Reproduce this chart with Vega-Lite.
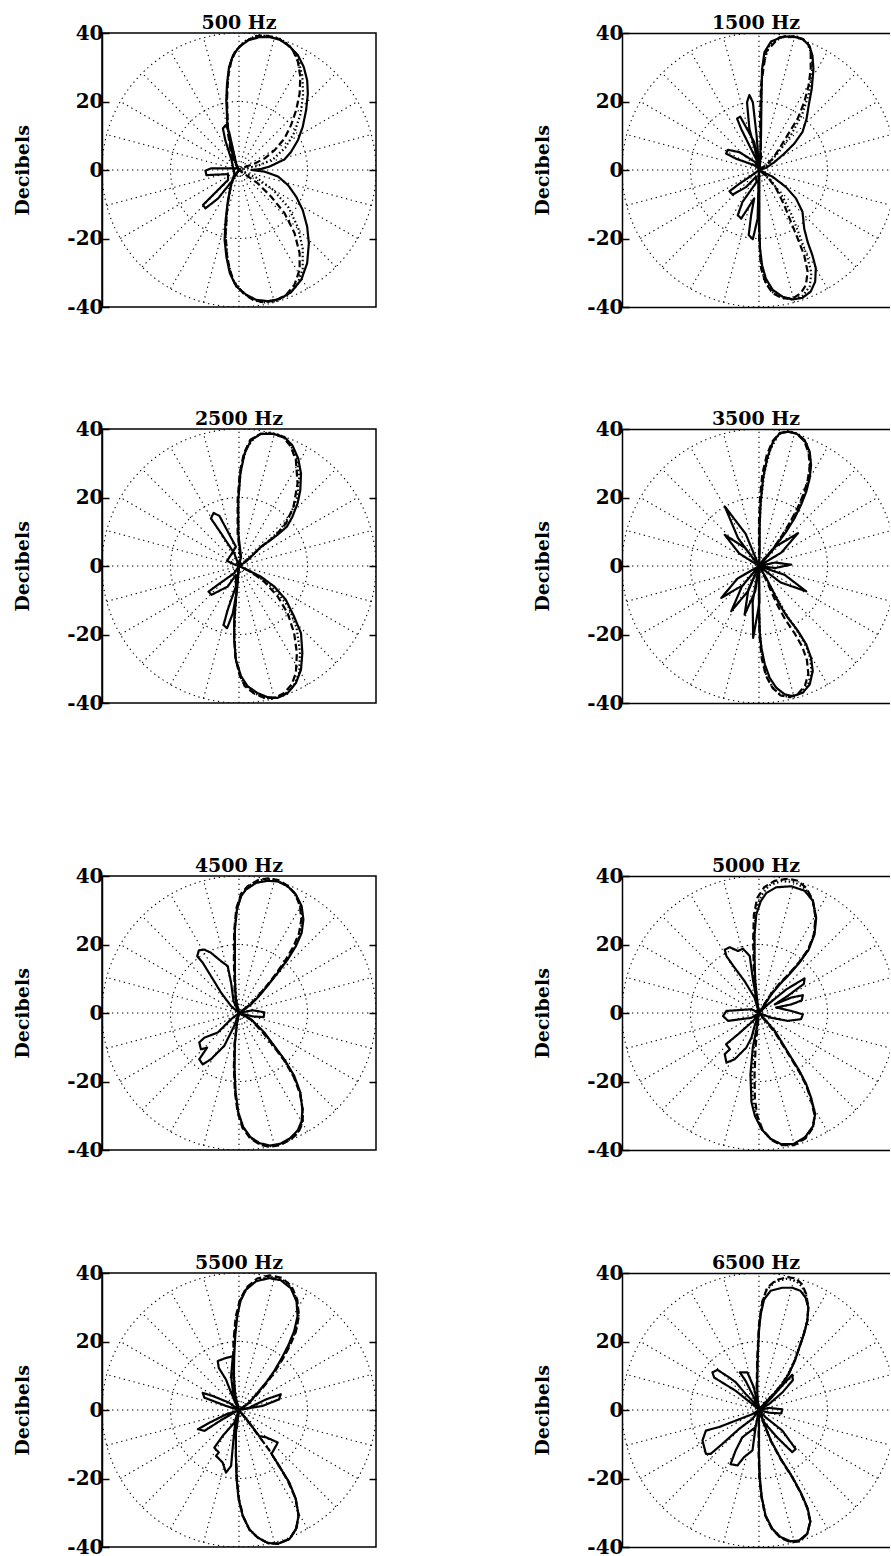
{
"$schema":"https://vega.github.io/schema/vega-lite/v6.json",
"background":"white",
"padding":{"left":13,"top":13,"right":0,"bottom":0},
"config":{
 "view":{"stroke":"black","strokeWidth":1.5},
 "title":{"font":"DejaVu Serif","fontWeight":"bold","fontSize":19,"offset":-10,"color":"black","anchor":"middle","frame":"group"},
 "axis":{"domainColor":"black","domainWidth":1.5,"tickColor":"black","tickWidth":1.5,"labelFont":"DejaVu Serif","labelFontWeight":"bold","labelFontSize":20,"labelColor":"black","titleFont":"DejaVu Serif","titleFontWeight":"bold","titleFontSize":19,"titleColor":"black","grid":false,"labelFlush":false,"labelOverlap":false,"labelBound":false}
},
"datasets":{
"rings":[{"x":0,"y":0,"r":20},{"x":0,"y":0,"r":40}],
"spokes":[
{"x":-40,"y":0,"x2":40,"y2":0},
{"x":-38.64,"y":-10.35,"x2":38.64,"y2":10.35},
{"x":-34.64,"y":-20,"x2":34.64,"y2":20},
{"x":-28.28,"y":-28.28,"x2":28.28,"y2":28.28},
{"x":-20,"y":-34.64,"x2":20,"y2":34.64},
{"x":-10.35,"y":-38.64,"x2":10.35,"y2":38.64},
{"x":0,"y":-40,"x2":0,"y2":40},
{"x":10.35,"y":-38.64,"x2":-10.35,"y2":38.64},
{"x":20,"y":-34.64,"x2":-20,"y2":34.64},
{"x":28.28,"y":-28.28,"x2":-28.28,"y2":28.28},
{"x":34.64,"y":-20,"x2":-34.64,"y2":20},
{"x":38.64,"y":-10.35,"x2":-38.64,"y2":10.35}],
"curves":[
{"p":"500","s":"solid","x":0,"y":0},{"p":"500","s":"solid","x":-1.75,"y":3.9},{"p":"500","s":"solid","x":-2.7,"y":8.7},{"p":"500","s":"solid","x":-3.4,"y":13.6},{"p":"500","s":"solid","x":-3.7,"y":20.4},{"p":"500","s":"solid","x":-3.5,"y":25.2},{"p":"500","s":"solid","x":-2.9,"y":30.1},{"p":"500","s":"solid","x":-1.75,"y":33.5},{"p":"500","s":"solid","x":0.2,"y":36.1},{"p":"500","s":"solid","x":2.8,"y":37.9},{"p":"500","s":"solid","x":6,"y":38.8},{"p":"500","s":"solid","x":8.9,"y":38.8},{"p":"500","s":"solid","x":11.8,"y":38.1},{"p":"500","s":"solid","x":14.8,"y":36.1},{"p":"500","s":"solid","x":17.2,"y":33.5},{"p":"500","s":"solid","x":18.9,"y":30.1},{"p":"500","s":"solid","x":19.9,"y":26.2},{"p":"500","s":"solid","x":20.1,"y":22.3},{"p":"500","s":"solid","x":19.6,"y":17.5},{"p":"500","s":"solid","x":18.6,"y":12.6},{"p":"500","s":"solid","x":17.2,"y":8.7},{"p":"500","s":"solid","x":15.2,"y":5.3},{"p":"500","s":"solid","x":13.3,"y":3.1},{"p":"500","s":"solid","x":11.4,"y":2.2},{"p":"500","s":"solid","x":8.9,"y":1},{"p":"500","s":"solid","x":6.5,"y":0.3},{"p":"500","s":"solid","x":3.6,"y":0},{"p":"500","s":"solid","x":7.5,"y":-0.5},{"p":"500","s":"solid","x":11.4,"y":-1.9},{"p":"500","s":"solid","x":14.3,"y":-4.4},{"p":"500","s":"solid","x":16.7,"y":-7.8},{"p":"500","s":"solid","x":18.6,"y":-11.7},{"p":"500","s":"solid","x":19.9,"y":-16.5},{"p":"500","s":"solid","x":20.4,"y":-21.4},{"p":"500","s":"solid","x":19.9,"y":-27.2},{"p":"500","s":"solid","x":18.2,"y":-32},{"p":"500","s":"solid","x":15.2,"y":-35.7},{"p":"500","s":"solid","x":11.8,"y":-37.7},{"p":"500","s":"solid","x":8.4,"y":-38.3},{"p":"500","s":"solid","x":5,"y":-37.9},{"p":"500","s":"solid","x":2.1,"y":-36.4},{"p":"500","s":"solid","x":-0.8,"y":-34},{"p":"500","s":"solid","x":-2.7,"y":-30.1},{"p":"500","s":"solid","x":-3.7,"y":-25.2},{"p":"500","s":"solid","x":-4.2,"y":-20.4},{"p":"500","s":"solid","x":-3.9,"y":-14.6},{"p":"500","s":"solid","x":-3.2,"y":-8.7},{"p":"500","s":"solid","x":-2.2,"y":-3.9},{"p":"500","s":"solid","x":-1.3,"y":-1},{"p":"500","s":"solid","x":-2.2,"y":2.9},{"p":"500","s":"solid","x":-4,"y":8.7},{"p":"500","s":"solid","x":-4.7,"y":12.1},{"p":"500","s":"solid","x":-3.9,"y":13.1},{"p":"500","s":"solid","x":-2.9,"y":11.2},{"p":"500","s":"solid","x":-1.7,"y":5.8},{"p":"500","s":"solid","x":-0.5,"y":0.5},{"p":"500","s":"solid","x":-3.2,"y":0.5},{"p":"500","s":"solid","x":-8.1,"y":0.5},{"p":"500","s":"solid","x":-9.8,"y":-0.2},{"p":"500","s":"solid","x":-9.5,"y":-1.5},{"p":"500","s":"solid","x":-3.2,"y":-1.2},{"p":"500","s":"solid","x":-3.2,"y":-2.9},{"p":"500","s":"solid","x":-8.1,"y":-7.8},{"p":"500","s":"solid","x":-10.5,"y":-10.2},{"p":"500","s":"solid","x":-9.8,"y":-11.2},{"p":"500","s":"solid","x":-6.1,"y":-8.3},{"p":"500","s":"solid","x":-2.2,"y":-3.4},{"p":"500","s":"solid","x":0,"y":0},
{"p":"500","s":"dashed","x":0,"y":0},{"p":"500","s":"dashed","x":-2.2,"y":3.9},{"p":"500","s":"dashed","x":-3.2,"y":10.7},{"p":"500","s":"dashed","x":-3.5,"y":20.4},{"p":"500","s":"dashed","x":-3.2,"y":27.2},{"p":"500","s":"dashed","x":-2.2,"y":32},{"p":"500","s":"dashed","x":-0.8,"y":35},{"p":"500","s":"dashed","x":1.7,"y":37.4},{"p":"500","s":"dashed","x":4.6,"y":39},{"p":"500","s":"dashed","x":7.5,"y":39.3},{"p":"500","s":"dashed","x":10.4,"y":38.8},{"p":"500","s":"dashed","x":13.3,"y":37.4},{"p":"500","s":"dashed","x":15.7,"y":35},{"p":"500","s":"dashed","x":17.2,"y":31.6},{"p":"500","s":"dashed","x":17.9,"y":27.2},{"p":"500","s":"dashed","x":17.7,"y":22.3},{"p":"500","s":"dashed","x":16.7,"y":17.5},{"p":"500","s":"dashed","x":15.2,"y":13.1},{"p":"500","s":"dashed","x":13.3,"y":9.2},{"p":"500","s":"dashed","x":10.4,"y":5.8},{"p":"500","s":"dashed","x":7.5,"y":3.4},{"p":"500","s":"dashed","x":4.6,"y":1.9},{"p":"500","s":"dashed","x":2.1,"y":1},{"p":"500","s":"dashed","x":0,"y":0},{"p":"500","s":"dashed","x":2.1,"y":-1.5},{"p":"500","s":"dashed","x":5.5,"y":-3.9},{"p":"500","s":"dashed","x":9.4,"y":-7.8},{"p":"500","s":"dashed","x":13.3,"y":-12.6},{"p":"500","s":"dashed","x":16.2,"y":-18.4},{"p":"500","s":"dashed","x":17.7,"y":-24.3},{"p":"500","s":"dashed","x":17.7,"y":-29.1},{"p":"500","s":"dashed","x":16.2,"y":-33.5},{"p":"500","s":"dashed","x":13.8,"y":-36.4},{"p":"500","s":"dashed","x":10.4,"y":-38.2},{"p":"500","s":"dashed","x":7,"y":-38.6},{"p":"500","s":"dashed","x":4.1,"y":-37.9},{"p":"500","s":"dashed","x":1.2,"y":-35.9},{"p":"500","s":"dashed","x":-1.3,"y":-33},{"p":"500","s":"dashed","x":-2.7,"y":-29.1},{"p":"500","s":"dashed","x":-3.6,"y":-24.3},{"p":"500","s":"dashed","x":-3.9,"y":-18.4},{"p":"500","s":"dashed","x":-3.4,"y":-10.7},{"p":"500","s":"dashed","x":-2.5,"y":-4.9},{"p":"500","s":"dashed","x":-1.5,"y":-1.9},{"p":"500","s":"dashed","x":0,"y":0},
{"p":"500","s":"dotted","x":0,"y":0},{"p":"500","s":"dotted","x":-2,"y":4},{"p":"500","s":"dotted","x":-3.3,"y":12},{"p":"500","s":"dotted","x":-3.6,"y":22},{"p":"500","s":"dotted","x":-2.8,"y":30.5},{"p":"500","s":"dotted","x":-1.2,"y":34.5},{"p":"500","s":"dotted","x":1.5,"y":37.5},{"p":"500","s":"dotted","x":5,"y":39.2},{"p":"500","s":"dotted","x":8.5,"y":39.2},{"p":"500","s":"dotted","x":12,"y":38.3},{"p":"500","s":"dotted","x":15,"y":36},{"p":"500","s":"dotted","x":17.2,"y":32.5},{"p":"500","s":"dotted","x":18.5,"y":27.5},{"p":"500","s":"dotted","x":18.7,"y":22},{"p":"500","s":"dotted","x":18,"y":16.5},{"p":"500","s":"dotted","x":16.2,"y":11},{"p":"500","s":"dotted","x":13.5,"y":6.5},{"p":"500","s":"dotted","x":10,"y":3.2},{"p":"500","s":"dotted","x":5.5,"y":1.2},{"p":"500","s":"dotted","x":0,"y":0},{"p":"500","s":"dotted","x":5,"y":-2.2},{"p":"500","s":"dotted","x":10,"y":-5.8},{"p":"500","s":"dotted","x":14.5,"y":-11},{"p":"500","s":"dotted","x":17.3,"y":-17},{"p":"500","s":"dotted","x":18.6,"y":-23},{"p":"500","s":"dotted","x":18.6,"y":-29},{"p":"500","s":"dotted","x":17,"y":-33.5},{"p":"500","s":"dotted","x":14.2,"y":-36.6},{"p":"500","s":"dotted","x":10.5,"y":-38.3},{"p":"500","s":"dotted","x":7,"y":-38.7},{"p":"500","s":"dotted","x":3.8,"y":-37.8},{"p":"500","s":"dotted","x":0.8,"y":-35.5},{"p":"500","s":"dotted","x":-1.8,"y":-32},{"p":"500","s":"dotted","x":-3.2,"y":-27},{"p":"500","s":"dotted","x":-3.9,"y":-20},{"p":"500","s":"dotted","x":-3.5,"y":-11},{"p":"500","s":"dotted","x":-2.2,"y":-4},{"p":"500","s":"dotted","x":0,"y":0},

{"p":"1500","s":"solid","x":0,"y":0},{"p":"1500","s":"solid","x":0.3,"y":2.3},{"p":"1500","s":"solid","x":0.6,"y":10.1},{"p":"1500","s":"solid","x":0.7,"y":19.8},{"p":"1500","s":"solid","x":0.9,"y":29.5},{"p":"1500","s":"solid","x":1.6,"y":34.4},{"p":"1500","s":"solid","x":3.5,"y":37.5},{"p":"1500","s":"solid","x":6.9,"y":38.9},{"p":"1500","s":"solid","x":9.8,"y":39},{"p":"1500","s":"solid","x":12.7,"y":38.3},{"p":"1500","s":"solid","x":14.7,"y":36.3},{"p":"1500","s":"solid","x":15.6,"y":33.4},{"p":"1500","s":"solid","x":15.9,"y":29.5},{"p":"1500","s":"solid","x":15.4,"y":23.7},{"p":"1500","s":"solid","x":14.5,"y":18.8},{"p":"1500","s":"solid","x":13.9,"y":15},{"p":"1500","s":"solid","x":12.7,"y":11.1},{"p":"1500","s":"solid","x":10.3,"y":7.7},{"p":"1500","s":"solid","x":7.4,"y":4.8},{"p":"1500","s":"solid","x":4.5,"y":2.3},{"p":"1500","s":"solid","x":2,"y":0.6},{"p":"1500","s":"solid","x":0,"y":0},{"p":"1500","s":"solid","x":4,"y":-2},{"p":"1500","s":"solid","x":7.9,"y":-5},{"p":"1500","s":"solid","x":10.8,"y":-8.3},{"p":"1500","s":"solid","x":12.7,"y":-12.2},{"p":"1500","s":"solid","x":13.2,"y":-17.1},{"p":"1500","s":"solid","x":14.2,"y":-21},{"p":"1500","s":"solid","x":15.6,"y":-24.9},{"p":"1500","s":"solid","x":16.6,"y":-28.7},{"p":"1500","s":"solid","x":16.4,"y":-32.6},{"p":"1500","s":"solid","x":15.1,"y":-35.5},{"p":"1500","s":"solid","x":12.7,"y":-37.3},{"p":"1500","s":"solid","x":9.8,"y":-37.8},{"p":"1500","s":"solid","x":6.9,"y":-37},{"p":"1500","s":"solid","x":4,"y":-35},{"p":"1500","s":"solid","x":2,"y":-31.7},{"p":"1500","s":"solid","x":0.9,"y":-27.8},{"p":"1500","s":"solid","x":0.3,"y":-22.9},{"p":"1500","s":"solid","x":0.1,"y":-17.1},{"p":"1500","s":"solid","x":0.1,"y":-9.3},{"p":"1500","s":"solid","x":0.1,"y":-3.5},{"p":"1500","s":"solid","x":0,"y":0},{"p":"1500","s":"solid","x":-0.7,"y":4.3},{"p":"1500","s":"solid","x":-2.8,"y":12},{"p":"1500","s":"solid","x":-3.5,"y":19.8},{"p":"1500","s":"solid","x":-2.8,"y":21.9},{"p":"1500","s":"solid","x":-1.8,"y":19.8},{"p":"1500","s":"solid","x":-0.7,"y":10.1},{"p":"1500","s":"solid","x":0,"y":1},{"p":"1500","s":"solid","x":-0.9,"y":3.3},{"p":"1500","s":"solid","x":-5.2,"y":12},{"p":"1500","s":"solid","x":-6.4,"y":15},{"p":"1500","s":"solid","x":-5.5,"y":15.6},{"p":"1500","s":"solid","x":-1.4,"y":8.2},{"p":"1500","s":"solid","x":0,"y":0.5},{"p":"1500","s":"solid","x":-1.4,"y":1.4},{"p":"1500","s":"solid","x":-6.7,"y":3.3},{"p":"1500","s":"solid","x":-9.6,"y":4.8},{"p":"1500","s":"solid","x":-9.1,"y":5.9},{"p":"1500","s":"solid","x":-5.7,"y":5.2},{"p":"1500","s":"solid","x":-1.1,"y":2.3},{"p":"1500","s":"solid","x":0,"y":0},{"p":"1500","s":"solid","x":-1.4,"y":-1.1},{"p":"1500","s":"solid","x":-5.7,"y":-4},{"p":"1500","s":"solid","x":-8.6,"y":-6.2},{"p":"1500","s":"solid","x":-7.7,"y":-7.2},{"p":"1500","s":"solid","x":-3.8,"y":-5},{"p":"1500","s":"solid","x":-0.9,"y":-2},{"p":"1500","s":"solid","x":-0.7,"y":-3.5},{"p":"1500","s":"solid","x":-4.8,"y":-9.3},{"p":"1500","s":"solid","x":-6.2,"y":-13.2},{"p":"1500","s":"solid","x":-5.2,"y":-14.2},{"p":"1500","s":"solid","x":-1.4,"y":-8.3},{"p":"1500","s":"solid","x":-2.3,"y":-13.2},{"p":"1500","s":"solid","x":-3,"y":-19},{"p":"1500","s":"solid","x":-1.8,"y":-20.2},{"p":"1500","s":"solid","x":-0.4,"y":-14.2},{"p":"1500","s":"solid","x":-0.1,"y":-3.5},{"p":"1500","s":"solid","x":0,"y":0},
{"p":"1500","s":"dashed","x":0,"y":0},{"p":"1500","s":"dashed","x":0.6,"y":3.3},{"p":"1500","s":"dashed","x":0.3,"y":15},{"p":"1500","s":"dashed","x":0.6,"y":24.7},{"p":"1500","s":"dashed","x":2,"y":34.4},{"p":"1500","s":"dashed","x":5.9,"y":38.7},{"p":"1500","s":"dashed","x":10.8,"y":38.9},{"p":"1500","s":"dashed","x":13.7,"y":37.8},{"p":"1500","s":"dashed","x":15.1,"y":35.3},{"p":"1500","s":"dashed","x":15.1,"y":29.5},{"p":"1500","s":"dashed","x":14.5,"y":24.7},{"p":"1500","s":"dashed","x":13.2,"y":19.8},{"p":"1500","s":"dashed","x":11.3,"y":15},{"p":"1500","s":"dashed","x":8.3,"y":10.1},{"p":"1500","s":"dashed","x":5.9,"y":6.2},{"p":"1500","s":"dashed","x":4,"y":3.3},{"p":"1500","s":"dashed","x":2,"y":1.4},{"p":"1500","s":"dashed","x":0,"y":0},{"p":"1500","s":"dashed","x":2.5,"y":-2},{"p":"1500","s":"dashed","x":5,"y":-5.4},{"p":"1500","s":"dashed","x":7.4,"y":-10.3},{"p":"1500","s":"dashed","x":9.3,"y":-15.1},{"p":"1500","s":"dashed","x":11.3,"y":-20},{"p":"1500","s":"dashed","x":13.2,"y":-24.9},{"p":"1500","s":"dashed","x":14.2,"y":-29.7},{"p":"1500","s":"dashed","x":13.7,"y":-33.6},{"p":"1500","s":"dashed","x":12.2,"y":-36},{"p":"1500","s":"dashed","x":9.8,"y":-37.5},{"p":"1500","s":"dashed","x":6.9,"y":-37.5},{"p":"1500","s":"dashed","x":4,"y":-36},{"p":"1500","s":"dashed","x":2,"y":-33.1},{"p":"1500","s":"dashed","x":0.6,"y":-28.7},{"p":"1500","s":"dashed","x":0.1,"y":-21},{"p":"1500","s":"dashed","x":-0.1,"y":-11.3},{"p":"1500","s":"dashed","x":-0.1,"y":-3.5},{"p":"1500","s":"dashed","x":0,"y":0},
{"p":"1500","s":"dotted","x":0,"y":0},{"p":"1500","s":"dotted","x":0.5,"y":5},{"p":"1500","s":"dotted","x":0.5,"y":18},{"p":"1500","s":"dotted","x":1,"y":30},{"p":"1500","s":"dotted","x":3,"y":36.5},{"p":"1500","s":"dotted","x":7,"y":39},{"p":"1500","s":"dotted","x":11,"y":39},{"p":"1500","s":"dotted","x":14,"y":37.3},{"p":"1500","s":"dotted","x":15.5,"y":33.5},{"p":"1500","s":"dotted","x":15.5,"y":28},{"p":"1500","s":"dotted","x":14.5,"y":22},{"p":"1500","s":"dotted","x":12.5,"y":16},{"p":"1500","s":"dotted","x":9.5,"y":10.5},{"p":"1500","s":"dotted","x":6,"y":5.5},{"p":"1500","s":"dotted","x":2.5,"y":1.5},{"p":"1500","s":"dotted","x":0,"y":0},{"p":"1500","s":"dotted","x":3.5,"y":-3},{"p":"1500","s":"dotted","x":7,"y":-8},{"p":"1500","s":"dotted","x":9.5,"y":-13},{"p":"1500","s":"dotted","x":11.8,"y":-19},{"p":"1500","s":"dotted","x":14,"y":-25},{"p":"1500","s":"dotted","x":15.3,"y":-30},{"p":"1500","s":"dotted","x":14.8,"y":-34},{"p":"1500","s":"dotted","x":12.8,"y":-36.7},{"p":"1500","s":"dotted","x":9.8,"y":-37.8},{"p":"1500","s":"dotted","x":6.8,"y":-37.3},{"p":"1500","s":"dotted","x":3.8,"y":-35.5},{"p":"1500","s":"dotted","x":1.5,"y":-32},{"p":"1500","s":"dotted","x":0.4,"y":-26},{"p":"1500","s":"dotted","x":0,"y":-16},{"p":"1500","s":"dotted","x":0,"y":-5},{"p":"1500","s":"dotted","x":0,"y":0},

{"p":"2500","s":"solid","x":0,"y":0},{"p":"2500","s":"solid","x":0.6,"y":2.7},{"p":"2500","s":"solid","x":-0.2,"y":9.5},{"p":"2500","s":"solid","x":-0.2,"y":19.2},{"p":"2500","s":"solid","x":0.4,"y":27},{"p":"2500","s":"solid","x":1.6,"y":32.8},{"p":"2500","s":"solid","x":3.5,"y":36.7},{"p":"2500","s":"solid","x":6.4,"y":38.6},{"p":"2500","s":"solid","x":9.8,"y":38.6},{"p":"2500","s":"solid","x":13.2,"y":37.7},{"p":"2500","s":"solid","x":15.6,"y":35.2},{"p":"2500","s":"solid","x":17.3,"y":31.4},{"p":"2500","s":"solid","x":18.1,"y":27},{"p":"2500","s":"solid","x":17.9,"y":22.1},{"p":"2500","s":"solid","x":17.1,"y":18.3},{"p":"2500","s":"solid","x":15.6,"y":14.4},{"p":"2500","s":"solid","x":14,"y":11.5},{"p":"2500","s":"solid","x":11.7,"y":9.5},{"p":"2500","s":"solid","x":9.3,"y":7.6},{"p":"2500","s":"solid","x":6.4,"y":5.6},{"p":"2500","s":"solid","x":3.5,"y":2.7},{"p":"2500","s":"solid","x":1.6,"y":1},{"p":"2500","s":"solid","x":0,"y":0},{"p":"2500","s":"solid","x":2.5,"y":-1.2},{"p":"2500","s":"solid","x":6.4,"y":-3.1},{"p":"2500","s":"solid","x":10.3,"y":-6},{"p":"2500","s":"solid","x":13.7,"y":-9.9},{"p":"2500","s":"solid","x":16.1,"y":-14.8},{"p":"2500","s":"solid","x":18.1,"y":-19.6},{"p":"2500","s":"solid","x":18.5,"y":-25.4},{"p":"2500","s":"solid","x":18.1,"y":-30.3},{"p":"2500","s":"solid","x":16.6,"y":-34.2},{"p":"2500","s":"solid","x":14.2,"y":-37.1},{"p":"2500","s":"solid","x":11.3,"y":-38.5},{"p":"2500","s":"solid","x":8.3,"y":-38.3},{"p":"2500","s":"solid","x":5.4,"y":-37.1},{"p":"2500","s":"solid","x":2.5,"y":-35.1},{"p":"2500","s":"solid","x":0.6,"y":-32.2},{"p":"2500","s":"solid","x":-0.9,"y":-27.4},{"p":"2500","s":"solid","x":-1.4,"y":-21.6},{"p":"2500","s":"solid","x":-1.4,"y":-15.7},{"p":"2500","s":"solid","x":-0.9,"y":-9.9},{"p":"2500","s":"solid","x":-0.4,"y":-4.1},{"p":"2500","s":"solid","x":0,"y":0},{"p":"2500","s":"solid","x":-1.4,"y":3.7},{"p":"2500","s":"solid","x":-5.2,"y":9.5},{"p":"2500","s":"solid","x":-8.2,"y":13.9},{"p":"2500","s":"solid","x":-7.4,"y":15.5},{"p":"2500","s":"solid","x":-5.7,"y":14.6},{"p":"2500","s":"solid","x":-0.9,"y":5.6},{"p":"2500","s":"solid","x":-2.5,"y":3},{"p":"2500","s":"solid","x":-3.5,"y":1.5},{"p":"2500","s":"solid","x":-1,"y":0.3},{"p":"2500","s":"solid","x":0,"y":0},{"p":"2500","s":"solid","x":-1.4,"y":-2.1},{"p":"2500","s":"solid","x":-6.2,"y":-5.5},{"p":"2500","s":"solid","x":-8.9,"y":-7.5},{"p":"2500","s":"solid","x":-8,"y":-8.4},{"p":"2500","s":"solid","x":-3.3,"y":-6},{"p":"2500","s":"solid","x":-0.9,"y":-2.6},{"p":"2500","s":"solid","x":-0.9,"y":-6},{"p":"2500","s":"solid","x":-3.3,"y":-12.8},{"p":"2500","s":"solid","x":-4.5,"y":-17.2},{"p":"2500","s":"solid","x":-3.5,"y":-18.2},{"p":"2500","s":"solid","x":-1.8,"y":-13.8},{"p":"2500","s":"solid","x":-0.6,"y":-7},{"p":"2500","s":"solid","x":0,"y":0},
{"p":"2500","s":"dashed","x":0,"y":0},{"p":"2500","s":"dashed","x":0.4,"y":2.7},{"p":"2500","s":"dashed","x":-0.4,"y":9.5},{"p":"2500","s":"dashed","x":-0.4,"y":19.2},{"p":"2500","s":"dashed","x":0.2,"y":27},{"p":"2500","s":"dashed","x":1.4,"y":32.8},{"p":"2500","s":"dashed","x":3.3,"y":36.9},{"p":"2500","s":"dashed","x":6.4,"y":38.6},{"p":"2500","s":"dashed","x":9.8,"y":38.6},{"p":"2500","s":"dashed","x":13,"y":37.5},{"p":"2500","s":"dashed","x":15.1,"y":34.9},{"p":"2500","s":"dashed","x":16.6,"y":30.9},{"p":"2500","s":"dashed","x":17.1,"y":24.1},{"p":"2500","s":"dashed","x":15.9,"y":17.3},{"p":"2500","s":"dashed","x":13.7,"y":12.4},{"p":"2500","s":"dashed","x":10.3,"y":8.5},{"p":"2500","s":"dashed","x":6.4,"y":5.6},{"p":"2500","s":"dashed","x":3.5,"y":2.7},{"p":"2500","s":"dashed","x":1.4,"y":0.8},{"p":"2500","s":"dashed","x":0,"y":0},{"p":"2500","s":"dashed","x":3.5,"y":-1.7},{"p":"2500","s":"dashed","x":7.4,"y":-4.6},{"p":"2500","s":"dashed","x":11.3,"y":-8.9},{"p":"2500","s":"dashed","x":14.2,"y":-13.8},{"p":"2500","s":"dashed","x":16.1,"y":-19.6},{"p":"2500","s":"dashed","x":16.9,"y":-25.4},{"p":"2500","s":"dashed","x":16.6,"y":-31.3},{"p":"2500","s":"dashed","x":15.3,"y":-34.7},{"p":"2500","s":"dashed","x":13.2,"y":-37.1},{"p":"2500","s":"dashed","x":10.3,"y":-38.5},{"p":"2500","s":"dashed","x":7.4,"y":-38.5},{"p":"2500","s":"dashed","x":4.5,"y":-37.3},{"p":"2500","s":"dashed","x":1.7,"y":-35.1},{"p":"2500","s":"dashed","x":0.1,"y":-31.7},{"p":"2500","s":"dashed","x":-1.1,"y":-26.4},{"p":"2500","s":"dashed","x":-1.4,"y":-19.6},{"p":"2500","s":"dashed","x":-1.1,"y":-11.8},{"p":"2500","s":"dashed","x":-0.4,"y":-4.1},{"p":"2500","s":"dashed","x":0,"y":0},
{"p":"2500","s":"dotted","x":0,"y":0},{"p":"2500","s":"dotted","x":0,"y":6},{"p":"2500","s":"dotted","x":-0.3,"y":18},{"p":"2500","s":"dotted","x":0.5,"y":28},{"p":"2500","s":"dotted","x":2.2,"y":34.5},{"p":"2500","s":"dotted","x":5,"y":38},{"p":"2500","s":"dotted","x":8.5,"y":39},{"p":"2500","s":"dotted","x":12,"y":38.3},{"p":"2500","s":"dotted","x":14.8,"y":36},{"p":"2500","s":"dotted","x":16.8,"y":31.5},{"p":"2500","s":"dotted","x":17.6,"y":26},{"p":"2500","s":"dotted","x":17,"y":20},{"p":"2500","s":"dotted","x":15,"y":15},{"p":"2500","s":"dotted","x":12,"y":10.5},{"p":"2500","s":"dotted","x":8,"y":6.8},{"p":"2500","s":"dotted","x":4,"y":3.3},{"p":"2500","s":"dotted","x":0,"y":0},{"p":"2500","s":"dotted","x":3,"y":-1.5},{"p":"2500","s":"dotted","x":7,"y":-4},{"p":"2500","s":"dotted","x":11,"y":-7.5},{"p":"2500","s":"dotted","x":14.5,"y":-12},{"p":"2500","s":"dotted","x":16.8,"y":-18},{"p":"2500","s":"dotted","x":17.8,"y":-25},{"p":"2500","s":"dotted","x":17.6,"y":-31},{"p":"2500","s":"dotted","x":16,"y":-35},{"p":"2500","s":"dotted","x":13,"y":-37.8},{"p":"2500","s":"dotted","x":9.5,"y":-38.8},{"p":"2500","s":"dotted","x":6.5,"y":-38.2},{"p":"2500","s":"dotted","x":3.5,"y":-36.5},{"p":"2500","s":"dotted","x":1,"y":-33.5},{"p":"2500","s":"dotted","x":-0.8,"y":-28},{"p":"2500","s":"dotted","x":-1.4,"y":-20},{"p":"2500","s":"dotted","x":-1,"y":-10},{"p":"2500","s":"dotted","x":0,"y":0},

{"p":"3500","s":"solid","x":0,"y":0},{"p":"3500","s":"solid","x":0.2,"y":4.3},{"p":"3500","s":"solid","x":0.2,"y":12},{"p":"3500","s":"solid","x":0.5,"y":18.8},{"p":"3500","s":"solid","x":1.2,"y":25.6},{"p":"3500","s":"solid","x":2.4,"y":31.5},{"p":"3500","s":"solid","x":4.1,"y":36.3},{"p":"3500","s":"solid","x":6,"y":38.7},{"p":"3500","s":"solid","x":8.4,"y":39.2},{"p":"3500","s":"solid","x":10.9,"y":38.7},{"p":"3500","s":"solid","x":13.3,"y":36.8},{"p":"3500","s":"solid","x":14.8,"y":33.4},{"p":"3500","s":"solid","x":15.2,"y":29.5},{"p":"3500","s":"solid","x":14.8,"y":25.6},{"p":"3500","s":"solid","x":13.8,"y":21.7},{"p":"3500","s":"solid","x":12.3,"y":17.9},{"p":"3500","s":"solid","x":10.4,"y":14},{"p":"3500","s":"solid","x":8,"y":10.1},{"p":"3500","s":"solid","x":5.5,"y":6.7},{"p":"3500","s":"solid","x":3.1,"y":3.8},{"p":"3500","s":"solid","x":1.2,"y":1.8},{"p":"3500","s":"solid","x":0,"y":0},{"p":"3500","s":"solid","x":4.9,"y":5.7},{"p":"3500","s":"solid","x":11.4,"y":9.6},{"p":"3500","s":"solid","x":6.5,"y":3.9},{"p":"3500","s":"solid","x":0,"y":0},{"p":"3500","s":"solid","x":4.7,"y":1},{"p":"3500","s":"solid","x":9.4,"y":0.4},{"p":"3500","s":"solid","x":4.7,"y":-0.6},{"p":"3500","s":"solid","x":0,"y":0},{"p":"3500","s":"solid","x":7.5,"y":-2.6},{"p":"3500","s":"solid","x":13.8,"y":-7.4},{"p":"3500","s":"solid","x":6.3,"y":-4.8},{"p":"3500","s":"solid","x":0,"y":0},{"p":"3500","s":"solid","x":2.1,"y":-3.5},{"p":"3500","s":"solid","x":4.1,"y":-7.4},{"p":"3500","s":"solid","x":6,"y":-11.3},{"p":"3500","s":"solid","x":8.4,"y":-15.1},{"p":"3500","s":"solid","x":11.4,"y":-19},{"p":"3500","s":"solid","x":13.8,"y":-22.9},{"p":"3500","s":"solid","x":15.2,"y":-26.8},{"p":"3500","s":"solid","x":15.7,"y":-30.7},{"p":"3500","s":"solid","x":14.8,"y":-34.6},{"p":"3500","s":"solid","x":12.8,"y":-37},{"p":"3500","s":"solid","x":9.9,"y":-38},{"p":"3500","s":"solid","x":7.5,"y":-37.5},{"p":"3500","s":"solid","x":5,"y":-35.5},{"p":"3500","s":"solid","x":3.1,"y":-32.6},{"p":"3500","s":"solid","x":1.7,"y":-28.7},{"p":"3500","s":"solid","x":0.7,"y":-23.9},{"p":"3500","s":"solid","x":0.2,"y":-19},{"p":"3500","s":"solid","x":0,"y":-12.2},{"p":"3500","s":"solid","x":0,"y":-5.4},{"p":"3500","s":"solid","x":0,"y":0},{"p":"3500","s":"solid","x":0.15,"y":-10.6},{"p":"3500","s":"solid","x":-1.7,"y":-21},{"p":"3500","s":"solid","x":-1.85,"y":-10.4},{"p":"3500","s":"solid","x":0,"y":0},{"p":"3500","s":"solid","x":-1.1,"y":-7.4},{"p":"3500","s":"solid","x":-4.2,"y":-14.2},{"p":"3500","s":"solid","x":-3.1,"y":-6.8},{"p":"3500","s":"solid","x":0,"y":0},{"p":"3500","s":"solid","x":-3.1,"y":-7.2},{"p":"3500","s":"solid","x":-8.1,"y":-13.2},{"p":"3500","s":"solid","x":-5,"y":-6},{"p":"3500","s":"solid","x":0,"y":0},{"p":"3500","s":"solid","x":-4.7,"y":-5.6},{"p":"3500","s":"solid","x":-11,"y":-9.3},{"p":"3500","s":"solid","x":-6.3,"y":-3.7},{"p":"3500","s":"solid","x":0,"y":0},{"p":"3500","s":"solid","x":-5.8,"y":3.7},{"p":"3500","s":"solid","x":-10,"y":9.1},{"p":"3500","s":"solid","x":-4.2,"y":5.4},{"p":"3500","s":"solid","x":0,"y":0},{"p":"3500","s":"solid","x":-6.1,"y":8.1},{"p":"3500","s":"solid","x":-10,"y":17.4},{"p":"3500","s":"solid","x":-3.9,"y":9.4},{"p":"3500","s":"solid","x":0,"y":0},
{"p":"3500","s":"dashed","x":0,"y":0},{"p":"3500","s":"dashed","x":0,"y":5},{"p":"3500","s":"dashed","x":0,"y":13},{"p":"3500","s":"dashed","x":0.3,"y":20},{"p":"3500","s":"dashed","x":1,"y":27},{"p":"3500","s":"dashed","x":2.3,"y":32.5},{"p":"3500","s":"dashed","x":4,"y":36.5},{"p":"3500","s":"dashed","x":6,"y":38.8},{"p":"3500","s":"dashed","x":8.5,"y":39.3},{"p":"3500","s":"dashed","x":11,"y":38.6},{"p":"3500","s":"dashed","x":13.2,"y":36.5},{"p":"3500","s":"dashed","x":14.5,"y":33},{"p":"3500","s":"dashed","x":14.8,"y":29},{"p":"3500","s":"dashed","x":14.2,"y":25},{"p":"3500","s":"dashed","x":13,"y":21},{"p":"3500","s":"dashed","x":11.3,"y":17},{"p":"3500","s":"dashed","x":9.2,"y":13},{"p":"3500","s":"dashed","x":6.8,"y":9},{"p":"3500","s":"dashed","x":4.3,"y":5.3},{"p":"3500","s":"dashed","x":2,"y":2.3},{"p":"3500","s":"dashed","x":0,"y":0},{"p":"3500","s":"dashed","x":1.8,"y":-3.5},{"p":"3500","s":"dashed","x":3.6,"y":-7.5},{"p":"3500","s":"dashed","x":5.4,"y":-11.5},{"p":"3500","s":"dashed","x":7.6,"y":-15.5},{"p":"3500","s":"dashed","x":10.3,"y":-19.5},{"p":"3500","s":"dashed","x":12.6,"y":-23.5},{"p":"3500","s":"dashed","x":14,"y":-27.5},{"p":"3500","s":"dashed","x":14.4,"y":-31.5},{"p":"3500","s":"dashed","x":13.4,"y":-35},{"p":"3500","s":"dashed","x":11.4,"y":-37.3},{"p":"3500","s":"dashed","x":8.8,"y":-38.3},{"p":"3500","s":"dashed","x":6.3,"y":-37.8},{"p":"3500","s":"dashed","x":3.9,"y":-35.5},{"p":"3500","s":"dashed","x":2,"y":-32},{"p":"3500","s":"dashed","x":0.8,"y":-27},{"p":"3500","s":"dashed","x":0.2,"y":-21},{"p":"3500","s":"dashed","x":0,"y":-13},{"p":"3500","s":"dashed","x":0,"y":-5},{"p":"3500","s":"dashed","x":0,"y":0},
{"p":"3500","s":"dotted","x":0,"y":0},{"p":"3500","s":"dotted","x":0.1,"y":8},{"p":"3500","s":"dotted","x":0.4,"y":17},{"p":"3500","s":"dotted","x":1.5,"y":27},{"p":"3500","s":"dotted","x":3.3,"y":34},{"p":"3500","s":"dotted","x":5.8,"y":38.5},{"p":"3500","s":"dotted","x":8.5,"y":39.5},{"p":"3500","s":"dotted","x":11.5,"y":38.5},{"p":"3500","s":"dotted","x":14,"y":35.5},{"p":"3500","s":"dotted","x":15,"y":31},{"p":"3500","s":"dotted","x":14.6,"y":26},{"p":"3500","s":"dotted","x":13,"y":20.5},{"p":"3500","s":"dotted","x":10.5,"y":15},{"p":"3500","s":"dotted","x":7.5,"y":10},{"p":"3500","s":"dotted","x":4.5,"y":5.5},{"p":"3500","s":"dotted","x":1.5,"y":2},{"p":"3500","s":"dotted","x":0,"y":0},{"p":"3500","s":"dotted","x":2.5,"y":-4.5},{"p":"3500","s":"dotted","x":5,"y":-9},{"p":"3500","s":"dotted","x":7.8,"y":-14},{"p":"3500","s":"dotted","x":11,"y":-18.5},{"p":"3500","s":"dotted","x":13.5,"y":-22.5},{"p":"3500","s":"dotted","x":15,"y":-27},{"p":"3500","s":"dotted","x":15.3,"y":-31},{"p":"3500","s":"dotted","x":14.3,"y":-34.8},{"p":"3500","s":"dotted","x":12,"y":-37.3},{"p":"3500","s":"dotted","x":9.2,"y":-38.3},{"p":"3500","s":"dotted","x":6.5,"y":-37.8},{"p":"3500","s":"dotted","x":4,"y":-35.5},{"p":"3500","s":"dotted","x":2.2,"y":-32},{"p":"3500","s":"dotted","x":1,"y":-27},{"p":"3500","s":"dotted","x":0.3,"y":-20},{"p":"3500","s":"dotted","x":0,"y":-12},{"p":"3500","s":"dotted","x":0,"y":-4},{"p":"3500","s":"dotted","x":0,"y":0},

{"p":"4500","s":"solid","x":0,"y":0},{"p":"4500","s":"solid","x":-0.9,"y":4},{"p":"4500","s":"solid","x":-1.2,"y":9.8},{"p":"4500","s":"solid","x":-1.2,"y":17.6},{"p":"4500","s":"solid","x":-1.2,"y":24.4},{"p":"4500","s":"solid","x":-0.6,"y":30.2},{"p":"4500","s":"solid","x":0.6,"y":34.1},{"p":"4500","s":"solid","x":2,"y":36},{"p":"4500","s":"solid","x":5,"y":38},{"p":"4500","s":"solid","x":8.3,"y":38.6},{"p":"4500","s":"solid","x":11.3,"y":38.4},{"p":"4500","s":"solid","x":14.2,"y":37},{"p":"4500","s":"solid","x":16.6,"y":34.6},{"p":"4500","s":"solid","x":18.3,"y":31.2},{"p":"4500","s":"solid","x":18.8,"y":27.3},{"p":"4500","s":"solid","x":18.3,"y":23.4},{"p":"4500","s":"solid","x":16.6,"y":19.5},{"p":"4500","s":"solid","x":14.2,"y":15.6},{"p":"4500","s":"solid","x":11.3,"y":11.7},{"p":"4500","s":"solid","x":8.3,"y":7.9},{"p":"4500","s":"solid","x":5.9,"y":5},{"p":"4500","s":"solid","x":3.5,"y":2.5},{"p":"4500","s":"solid","x":1.6,"y":1.1},{"p":"4500","s":"solid","x":0,"y":0},{"p":"4500","s":"solid","x":4,"y":0.8},{"p":"4500","s":"solid","x":7.4,"y":0.2},{"p":"4500","s":"solid","x":7.2,"y":-1.2},{"p":"4500","s":"solid","x":4,"y":-1},{"p":"4500","s":"solid","x":0,"y":0},{"p":"4500","s":"solid","x":3.5,"y":-1.8},{"p":"4500","s":"solid","x":7.4,"y":-5.7},{"p":"4500","s":"solid","x":10.3,"y":-9.6},{"p":"4500","s":"solid","x":13.2,"y":-13.5},{"p":"4500","s":"solid","x":16.1,"y":-18.3},{"p":"4500","s":"solid","x":17.9,"y":-23.2},{"p":"4500","s":"solid","x":18.5,"y":-28.1},{"p":"4500","s":"solid","x":18.3,"y":-31.5},{"p":"4500","s":"solid","x":17.2,"y":-34.2},{"p":"4500","s":"solid","x":15,"y":-36.5},{"p":"4500","s":"solid","x":12,"y":-38.2},{"p":"4500","s":"solid","x":9,"y":-38.7},{"p":"4500","s":"solid","x":6,"y":-38},{"p":"4500","s":"solid","x":3.3,"y":-36.2},{"p":"4500","s":"solid","x":1.2,"y":-33.2},{"p":"4500","s":"solid","x":-0.2,"y":-29},{"p":"4500","s":"solid","x":-1,"y":-23},{"p":"4500","s":"solid","x":-1.3,"y":-16},{"p":"4500","s":"solid","x":-1.2,"y":-9},{"p":"4500","s":"solid","x":-0.6,"y":-3},{"p":"4500","s":"solid","x":0,"y":0},{"p":"4500","s":"solid","x":-2.3,"y":2},{"p":"4500","s":"solid","x":-5.2,"y":5.9},{"p":"4500","s":"solid","x":-8.2,"y":10.8},{"p":"4500","s":"solid","x":-10.6,"y":14.7},{"p":"4500","s":"solid","x":-12.2,"y":16.6},{"p":"4500","s":"solid","x":-11.7,"y":18.3},{"p":"4500","s":"solid","x":-10.1,"y":18.5},{"p":"4500","s":"solid","x":-8.2,"y":17.6},{"p":"4500","s":"solid","x":-5.2,"y":15.1},{"p":"4500","s":"solid","x":-3.3,"y":13.7},{"p":"4500","s":"solid","x":-2.3,"y":8.8},{"p":"4500","s":"solid","x":-1.6,"y":3.5},{"p":"4500","s":"solid","x":0,"y":0},{"p":"4500","s":"solid","x":-2.3,"y":-1.8},{"p":"4500","s":"solid","x":-6.2,"y":-5.7},{"p":"4500","s":"solid","x":-10.1,"y":-7.2},{"p":"4500","s":"solid","x":-11.6,"y":-8.6},{"p":"4500","s":"solid","x":-11.1,"y":-10.6},{"p":"4500","s":"solid","x":-9.3,"y":-10.1},{"p":"4500","s":"solid","x":-11.6,"y":-13.5},{"p":"4500","s":"solid","x":-10.6,"y":-15},{"p":"4500","s":"solid","x":-8.2,"y":-13.5},{"p":"4500","s":"solid","x":-4.3,"y":-9.6},{"p":"4500","s":"solid","x":-1.4,"y":-3.8},{"p":"4500","s":"solid","x":0,"y":0},
{"p":"4500","s":"dashed","x":0,"y":0},{"p":"4500","s":"dashed","x":-1.2,"y":5},{"p":"4500","s":"dashed","x":-1.5,"y":15},{"p":"4500","s":"dashed","x":-1.4,"y":24},{"p":"4500","s":"dashed","x":-0.8,"y":30.5},{"p":"4500","s":"dashed","x":0.6,"y":34.8},{"p":"4500","s":"dashed","x":2.5,"y":37},{"p":"4500","s":"dashed","x":5.5,"y":38.8},{"p":"4500","s":"dashed","x":8.5,"y":39.3},{"p":"4500","s":"dashed","x":11.5,"y":38.8},{"p":"4500","s":"dashed","x":14.2,"y":37.2},{"p":"4500","s":"dashed","x":16.4,"y":34.8},{"p":"4500","s":"dashed","x":17.8,"y":31.2},{"p":"4500","s":"dashed","x":18.2,"y":27.3},{"p":"4500","s":"dashed","x":17.5,"y":23.2},{"p":"4500","s":"dashed","x":15.8,"y":19.2},{"p":"4500","s":"dashed","x":13.3,"y":15},{"p":"4500","s":"dashed","x":10.3,"y":10.8},{"p":"4500","s":"dashed","x":7.3,"y":7},{"p":"4500","s":"dashed","x":4.5,"y":3.8},{"p":"4500","s":"dashed","x":2,"y":1.5},{"p":"4500","s":"dashed","x":0,"y":0},{"p":"4500","s":"dashed","x":3.5,"y":-2},{"p":"4500","s":"dashed","x":7.2,"y":-6},{"p":"4500","s":"dashed","x":10.3,"y":-10},{"p":"4500","s":"dashed","x":13.3,"y":-14},{"p":"4500","s":"dashed","x":16,"y":-18.7},{"p":"4500","s":"dashed","x":17.8,"y":-23.5},{"p":"4500","s":"dashed","x":18.6,"y":-28.3},{"p":"4500","s":"dashed","x":18.6,"y":-32},{"p":"4500","s":"dashed","x":17.3,"y":-35},{"p":"4500","s":"dashed","x":15,"y":-37},{"p":"4500","s":"dashed","x":12,"y":-38.6},{"p":"4500","s":"dashed","x":9,"y":-39.1},{"p":"4500","s":"dashed","x":6,"y":-38.4},{"p":"4500","s":"dashed","x":3.2,"y":-36.5},{"p":"4500","s":"dashed","x":1,"y":-33.5},{"p":"4500","s":"dashed","x":-0.4,"y":-29},{"p":"4500","s":"dashed","x":-1.2,"y":-23},{"p":"4500","s":"dashed","x":-1.5,"y":-16},{"p":"4500","s":"dashed","x":-1.3,"y":-9},{"p":"4500","s":"dashed","x":-0.6,"y":-3},{"p":"4500","s":"dashed","x":0,"y":0},
{"p":"4500","s":"dotted","x":0,"y":0},{"p":"4500","s":"dotted","x":-1,"y":6},{"p":"4500","s":"dotted","x":-1.3,"y":16},{"p":"4500","s":"dotted","x":-1.2,"y":25},{"p":"4500","s":"dotted","x":-0.5,"y":31},{"p":"4500","s":"dotted","x":1,"y":35},{"p":"4500","s":"dotted","x":3.5,"y":37.5},{"p":"4500","s":"dotted","x":7,"y":39},{"p":"4500","s":"dotted","x":10,"y":39},{"p":"4500","s":"dotted","x":13,"y":37.8},{"p":"4500","s":"dotted","x":15.6,"y":35.8},{"p":"4500","s":"dotted","x":17.6,"y":32.5},{"p":"4500","s":"dotted","x":18.5,"y":28},{"p":"4500","s":"dotted","x":18,"y":23.3},{"p":"4500","s":"dotted","x":16.3,"y":19.3},{"p":"4500","s":"dotted","x":13.8,"y":15.3},{"p":"4500","s":"dotted","x":10.8,"y":11.2},{"p":"4500","s":"dotted","x":7.8,"y":7.4},{"p":"4500","s":"dotted","x":4.8,"y":4},{"p":"4500","s":"dotted","x":2,"y":1.5},{"p":"4500","s":"dotted","x":0,"y":0},{"p":"4500","s":"dotted","x":3.6,"y":-2},{"p":"4500","s":"dotted","x":7.3,"y":-5.8},{"p":"4500","s":"dotted","x":10.3,"y":-9.8},{"p":"4500","s":"dotted","x":13.2,"y":-13.8},{"p":"4500","s":"dotted","x":16,"y":-18.5},{"p":"4500","s":"dotted","x":17.9,"y":-23.3},{"p":"4500","s":"dotted","x":18.6,"y":-28.2},{"p":"4500","s":"dotted","x":18.5,"y":-31.8},{"p":"4500","s":"dotted","x":17.3,"y":-34.6},{"p":"4500","s":"dotted","x":15,"y":-36.8},{"p":"4500","s":"dotted","x":12,"y":-38.4},{"p":"4500","s":"dotted","x":9,"y":-38.9},{"p":"4500","s":"dotted","x":6,"y":-38.2},{"p":"4500","s":"dotted","x":3.2,"y":-36.3},{"p":"4500","s":"dotted","x":1.1,"y":-33.3},{"p":"4500","s":"dotted","x":-0.3,"y":-29},{"p":"4500","s":"dotted","x":-1.1,"y":-23},{"p":"4500","s":"dotted","x":-1.4,"y":-16},{"p":"4500","s":"dotted","x":-1.2,"y":-9},{"p":"4500","s":"dotted","x":-0.6,"y":-3},{"p":"4500","s":"dotted","x":0,"y":0},

{"p":"5000","s":"solid","x":0,"y":0},{"p":"5000","s":"solid","x":-0.5,"y":3.5},{"p":"5000","s":"solid","x":-1.1,"y":9.3},{"p":"5000","s":"solid","x":-1.3,"y":16.1},{"p":"5000","s":"solid","x":-1.3,"y":22.9},{"p":"5000","s":"solid","x":-0.8,"y":28.7},{"p":"5000","s":"solid","x":0.5,"y":32.6},{"p":"5000","s":"solid","x":2.1,"y":35},{"p":"5000","s":"solid","x":5,"y":36.7},{"p":"5000","s":"solid","x":9.4,"y":37},{"p":"5000","s":"solid","x":13.3,"y":35.7},{"p":"5000","s":"solid","x":15.7,"y":32.8},{"p":"5000","s":"solid","x":16.7,"y":27.8},{"p":"5000","s":"solid","x":16.2,"y":22.9},{"p":"5000","s":"solid","x":14.5,"y":18.5},{"p":"5000","s":"solid","x":11.8,"y":14.7},{"p":"5000","s":"solid","x":8.9,"y":11.3},{"p":"5000","s":"solid","x":6,"y":8.3},{"p":"5000","s":"solid","x":3.6,"y":5.4},{"p":"5000","s":"solid","x":1.7,"y":2.5},{"p":"5000","s":"solid","x":0,"y":0},{"p":"5000","s":"solid","x":2.6,"y":2.5},{"p":"5000","s":"solid","x":8,"y":6.9},{"p":"5000","s":"solid","x":13.3,"y":10.1},{"p":"5000","s":"solid","x":13.1,"y":8.5},{"p":"5000","s":"solid","x":8.4,"y":5},{"p":"5000","s":"solid","x":4.6,"y":2.5},{"p":"5000","s":"solid","x":9.4,"y":4.5},{"p":"5000","s":"solid","x":12.8,"y":5.2},{"p":"5000","s":"solid","x":12.5,"y":3.7},{"p":"5000","s":"solid","x":9.4,"y":2.5},{"p":"5000","s":"solid","x":5,"y":1.6},{"p":"5000","s":"solid","x":9.4,"y":0.6},{"p":"5000","s":"solid","x":12.8,"y":-0.4},{"p":"5000","s":"solid","x":12.3,"y":-1.8},{"p":"5000","s":"solid","x":8.4,"y":-2.3},{"p":"5000","s":"solid","x":3.6,"y":-1.4},{"p":"5000","s":"solid","x":0,"y":0},{"p":"5000","s":"solid","x":2.1,"y":-2.3},{"p":"5000","s":"solid","x":4.6,"y":-5.2},{"p":"5000","s":"solid","x":7,"y":-9.1},{"p":"5000","s":"solid","x":9.4,"y":-13},{"p":"5000","s":"solid","x":11.8,"y":-16.9},{"p":"5000","s":"solid","x":13.8,"y":-20.8},{"p":"5000","s":"solid","x":15.2,"y":-24.7},{"p":"5000","s":"solid","x":16.4,"y":-29.5},{"p":"5000","s":"solid","x":15.8,"y":-33},{"p":"5000","s":"solid","x":13.5,"y":-36.2},{"p":"5000","s":"solid","x":10,"y":-38.3},{"p":"5000","s":"solid","x":6.5,"y":-38.3},{"p":"5000","s":"solid","x":3.5,"y":-36.8},{"p":"5000","s":"solid","x":0.8,"y":-34},{"p":"5000","s":"solid","x":-1.2,"y":-30},{"p":"5000","s":"solid","x":-2.2,"y":-26},{"p":"5000","s":"solid","x":-2.5,"y":-18},{"p":"5000","s":"solid","x":-1.8,"y":-10},{"p":"5000","s":"solid","x":-0.6,"y":-4},{"p":"5000","s":"solid","x":0,"y":0},{"p":"5000","s":"solid","x":-1.3,"y":4.5},{"p":"5000","s":"solid","x":-4.2,"y":9.3},{"p":"5000","s":"solid","x":-7.1,"y":13.2},{"p":"5000","s":"solid","x":-9.5,"y":16.6},{"p":"5000","s":"solid","x":-10,"y":18.5},{"p":"5000","s":"solid","x":-8.5,"y":19.2},{"p":"5000","s":"solid","x":-6.1,"y":18.1},{"p":"5000","s":"solid","x":-4.7,"y":18.8},{"p":"5000","s":"solid","x":-2.7,"y":16.6},{"p":"5000","s":"solid","x":-1.7,"y":9.3},{"p":"5000","s":"solid","x":0,"y":0},{"p":"5000","s":"solid","x":-2.2,"y":1.1},{"p":"5000","s":"solid","x":-9.5,"y":0.6},{"p":"5000","s":"solid","x":-10.5,"y":-0.9},{"p":"5000","s":"solid","x":-9,"y":-2.3},{"p":"5000","s":"solid","x":-2.2,"y":-1.4},{"p":"5000","s":"solid","x":0,"y":0},{"p":"5000","s":"solid","x":-1.7,"y":-2.3},{"p":"5000","s":"solid","x":-6.1,"y":-6.2},{"p":"5000","s":"solid","x":-9.6,"y":-9.1},{"p":"5000","s":"solid","x":-8.5,"y":-10.6},{"p":"5000","s":"solid","x":-10,"y":-12},{"p":"5000","s":"solid","x":-9.5,"y":-14.5},{"p":"5000","s":"solid","x":-7.1,"y":-13.5},{"p":"5000","s":"solid","x":-3.7,"y":-10.1},{"p":"5000","s":"solid","x":-2.2,"y":-7.2},{"p":"5000","s":"solid","x":-1.3,"y":-3.8},{"p":"5000","s":"solid","x":0,"y":0},
{"p":"5000","s":"dashed","x":0,"y":0},{"p":"5000","s":"dashed","x":-0.8,"y":4.5},{"p":"5000","s":"dashed","x":-1.5,"y":11.3},{"p":"5000","s":"dashed","x":-1.7,"y":21},{"p":"5000","s":"dashed","x":-1.5,"y":28.7},{"p":"5000","s":"dashed","x":-0.5,"y":33.6},{"p":"5000","s":"dashed","x":1.5,"y":36.7},{"p":"5000","s":"dashed","x":4.6,"y":38.6},{"p":"5000","s":"dashed","x":8.4,"y":39.2},{"p":"5000","s":"dashed","x":11.4,"y":38.6},{"p":"5000","s":"dashed","x":13.8,"y":36.5},{"p":"5000","s":"dashed","x":15.7,"y":33.1},{"p":"5000","s":"dashed","x":16.5,"y":27.8},{"p":"5000","s":"dashed","x":16,"y":22.9},{"p":"5000","s":"dashed","x":14.3,"y":18.5},{"p":"5000","s":"dashed","x":11.6,"y":14.7},{"p":"5000","s":"dashed","x":8.6,"y":11.3},{"p":"5000","s":"dashed","x":5.7,"y":8.3},{"p":"5000","s":"dashed","x":3.4,"y":5.4},{"p":"5000","s":"dashed","x":1.5,"y":2.5},{"p":"5000","s":"dashed","x":0,"y":0},{"p":"5000","s":"dashed","x":2,"y":-2.5},{"p":"5000","s":"dashed","x":4.5,"y":-5.5},{"p":"5000","s":"dashed","x":6.9,"y":-9.3},{"p":"5000","s":"dashed","x":9.3,"y":-13.2},{"p":"5000","s":"dashed","x":11.7,"y":-17.1},{"p":"5000","s":"dashed","x":13.7,"y":-21},{"p":"5000","s":"dashed","x":15.1,"y":-25},{"p":"5000","s":"dashed","x":16.2,"y":-29.7},{"p":"5000","s":"dashed","x":15.8,"y":-33.4},{"p":"5000","s":"dashed","x":13.6,"y":-36.6},{"p":"5000","s":"dashed","x":10.2,"y":-38.6},{"p":"5000","s":"dashed","x":6.6,"y":-38.6},{"p":"5000","s":"dashed","x":3.5,"y":-37},{"p":"5000","s":"dashed","x":1,"y":-34},{"p":"5000","s":"dashed","x":-0.5,"y":-30},{"p":"5000","s":"dashed","x":-1.2,"y":-25},{"p":"5000","s":"dashed","x":-1.3,"y":-18},{"p":"5000","s":"dashed","x":-1,"y":-10},{"p":"5000","s":"dashed","x":-0.4,"y":-4},{"p":"5000","s":"dashed","x":0,"y":0},
{"p":"5000","s":"dotted","x":0,"y":0},{"p":"5000","s":"dotted","x":-0.7,"y":5},{"p":"5000","s":"dotted","x":-1.4,"y":14},{"p":"5000","s":"dotted","x":-1.4,"y":24},{"p":"5000","s":"dotted","x":-0.9,"y":30.5},{"p":"5000","s":"dotted","x":0.8,"y":34.5},{"p":"5000","s":"dotted","x":3,"y":37.3},{"p":"5000","s":"dotted","x":6.5,"y":38.5},{"p":"5000","s":"dotted","x":10.3,"y":38.3},{"p":"5000","s":"dotted","x":13.6,"y":36.2},{"p":"5000","s":"dotted","x":15.7,"y":33},{"p":"5000","s":"dotted","x":16.6,"y":27.8},{"p":"5000","s":"dotted","x":16.1,"y":22.9},{"p":"5000","s":"dotted","x":14.4,"y":18.5},{"p":"5000","s":"dotted","x":11.7,"y":14.7},{"p":"5000","s":"dotted","x":8.7,"y":11.3},{"p":"5000","s":"dotted","x":5.8,"y":8.3},{"p":"5000","s":"dotted","x":3.5,"y":5.4},{"p":"5000","s":"dotted","x":1.6,"y":2.5},{"p":"5000","s":"dotted","x":0,"y":0},{"p":"5000","s":"dotted","x":2,"y":-2.4},{"p":"5000","s":"dotted","x":4.5,"y":-5.4},{"p":"5000","s":"dotted","x":7,"y":-9.2},{"p":"5000","s":"dotted","x":9.4,"y":-13.1},{"p":"5000","s":"dotted","x":11.8,"y":-17},{"p":"5000","s":"dotted","x":13.8,"y":-21},{"p":"5000","s":"dotted","x":15.2,"y":-25},{"p":"5000","s":"dotted","x":16.3,"y":-29.6},{"p":"5000","s":"dotted","x":15.8,"y":-33.2},{"p":"5000","s":"dotted","x":13.5,"y":-36.4},{"p":"5000","s":"dotted","x":10.1,"y":-38.4},{"p":"5000","s":"dotted","x":6.5,"y":-38.4},{"p":"5000","s":"dotted","x":3.5,"y":-36.9},{"p":"5000","s":"dotted","x":0.9,"y":-34},{"p":"5000","s":"dotted","x":-0.8,"y":-30},{"p":"5000","s":"dotted","x":-1.8,"y":-25},{"p":"5000","s":"dotted","x":-2,"y":-18},{"p":"5000","s":"dotted","x":-1.5,"y":-10},{"p":"5000","s":"dotted","x":-0.5,"y":-4},{"p":"5000","s":"dotted","x":0,"y":0},

{"p":"5500","s":"solid","x":0,"y":0},{"p":"5500","s":"solid","x":-1.1,"y":4.1},{"p":"5500","s":"solid","x":-1.5,"y":9.9},{"p":"5500","s":"solid","x":-1.4,"y":15.7},{"p":"5500","s":"solid","x":-1.1,"y":21.6},{"p":"5500","s":"solid","x":-0.5,"y":27.4},{"p":"5500","s":"solid","x":0.4,"y":31.7},{"p":"5500","s":"solid","x":2,"y":35.1},{"p":"5500","s":"solid","x":5,"y":37.6},{"p":"5500","s":"solid","x":8.8,"y":38.5},{"p":"5500","s":"solid","x":12.2,"y":37.9},{"p":"5500","s":"solid","x":15.1,"y":35.6},{"p":"5500","s":"solid","x":16.8,"y":31.7},{"p":"5500","s":"solid","x":17.1,"y":27.4},{"p":"5500","s":"solid","x":16.1,"y":23},{"p":"5500","s":"solid","x":14.5,"y":19.1},{"p":"5500","s":"solid","x":12.5,"y":15.2},{"p":"5500","s":"solid","x":10.3,"y":11.4},{"p":"5500","s":"solid","x":7.9,"y":8},{"p":"5500","s":"solid","x":5.4,"y":5},{"p":"5500","s":"solid","x":3,"y":2.1},{"p":"5500","s":"solid","x":0,"y":0},{"p":"5500","s":"solid","x":3,"y":0.7},{"p":"5500","s":"solid","x":7.9,"y":3.1},{"p":"5500","s":"solid","x":12.2,"y":4.6},{"p":"5500","s":"solid","x":11.7,"y":3.1},{"p":"5500","s":"solid","x":6.9,"y":1.2},{"p":"5500","s":"solid","x":0,"y":0},{"p":"5500","s":"solid","x":3,"y":-3.7},{"p":"5500","s":"solid","x":5.9,"y":-7.6},{"p":"5500","s":"solid","x":8,"y":-8},{"p":"5500","s":"solid","x":11.3,"y":-9.5},{"p":"5500","s":"solid","x":10.8,"y":-10.5},{"p":"5500","s":"solid","x":9.5,"y":-12.8},{"p":"5500","s":"solid","x":11.7,"y":-16.3},{"p":"5500","s":"solid","x":14.7,"y":-21.2},{"p":"5500","s":"solid","x":16.6,"y":-26},{"p":"5500","s":"solid","x":17.4,"y":-30.9},{"p":"5500","s":"solid","x":16.6,"y":-34.8},{"p":"5500","s":"solid","x":14.7,"y":-37.7},{"p":"5500","s":"solid","x":11.3,"y":-39.1},{"p":"5500","s":"solid","x":8.3,"y":-38.8},{"p":"5500","s":"solid","x":5.4,"y":-37.2},{"p":"5500","s":"solid","x":3,"y":-34.8},{"p":"5500","s":"solid","x":1.1,"y":-30.9},{"p":"5500","s":"solid","x":-0.1,"y":-26},{"p":"5500","s":"solid","x":-0.7,"y":-20.2},{"p":"5500","s":"solid","x":-0.9,"y":-13.4},{"p":"5500","s":"solid","x":-0.9,"y":-6.6},{"p":"5500","s":"solid","x":0,"y":0},{"p":"5500","s":"solid","x":-2.3,"y":5},{"p":"5500","s":"solid","x":-3.8,"y":8.9},{"p":"5500","s":"solid","x":-5.9,"y":12.3},{"p":"5500","s":"solid","x":-6.2,"y":14.3},{"p":"5500","s":"solid","x":-3.8,"y":15.2},{"p":"5500","s":"solid","x":-1.8,"y":15.7},{"p":"5500","s":"solid","x":-2.3,"y":9.9},{"p":"5500","s":"solid","x":-1.5,"y":3},{"p":"5500","s":"solid","x":0,"y":0},{"p":"5500","s":"solid","x":-2.8,"y":2.1},{"p":"5500","s":"solid","x":-7.7,"y":4.1},{"p":"5500","s":"solid","x":-10.6,"y":5},{"p":"5500","s":"solid","x":-10.1,"y":3.6},{"p":"5500","s":"solid","x":-3.8,"y":1.2},{"p":"5500","s":"solid","x":0,"y":0},{"p":"5500","s":"solid","x":-3.8,"y":-1.3},{"p":"5500","s":"solid","x":-8.6,"y":-3.7},{"p":"5500","s":"solid","x":-12,"y":-5.6},{"p":"5500","s":"solid","x":-10.1,"y":-6.1},{"p":"5500","s":"solid","x":-4.8,"y":-2.7},{"p":"5500","s":"solid","x":0,"y":0},{"p":"5500","s":"solid","x":-1.4,"y":-3.7},{"p":"5500","s":"solid","x":-4.8,"y":-7.6},{"p":"5500","s":"solid","x":-7.2,"y":-11},{"p":"5500","s":"solid","x":-5.9,"y":-12.4},{"p":"5500","s":"solid","x":-6.7,"y":-13.4},{"p":"5500","s":"solid","x":-4.8,"y":-15.3},{"p":"5500","s":"solid","x":-3.8,"y":-18.3},{"p":"5500","s":"solid","x":-2.3,"y":-16.3},{"p":"5500","s":"solid","x":-1.7,"y":-9.5},{"p":"5500","s":"solid","x":-1.1,"y":-3.7},{"p":"5500","s":"solid","x":0,"y":0},
{"p":"5500","s":"dashed","x":0,"y":0},{"p":"5500","s":"dashed","x":-1.3,"y":5},{"p":"5500","s":"dashed","x":-1.8,"y":12},{"p":"5500","s":"dashed","x":-1.6,"y":20},{"p":"5500","s":"dashed","x":-1,"y":27},{"p":"5500","s":"dashed","x":0.2,"y":32},{"p":"5500","s":"dashed","x":2.2,"y":35.8},{"p":"5500","s":"dashed","x":5.3,"y":38.4},{"p":"5500","s":"dashed","x":9,"y":39.3},{"p":"5500","s":"dashed","x":12.5,"y":38.6},{"p":"5500","s":"dashed","x":15.3,"y":36.2},{"p":"5500","s":"dashed","x":17,"y":32.3},{"p":"5500","s":"dashed","x":17.5,"y":27.5},{"p":"5500","s":"dashed","x":16.6,"y":22.8},{"p":"5500","s":"dashed","x":14.8,"y":18.6},{"p":"5500","s":"dashed","x":12.6,"y":14.6},{"p":"5500","s":"dashed","x":10.2,"y":10.8},{"p":"5500","s":"dashed","x":7.7,"y":7.4},{"p":"5500","s":"dashed","x":5.1,"y":4.3},{"p":"5500","s":"dashed","x":2.5,"y":1.8},{"p":"5500","s":"dashed","x":0,"y":0},{"p":"5500","s":"dashed","x":2.8,"y":-3.6},{"p":"5500","s":"dashed","x":5.7,"y":-7.5},{"p":"5500","s":"dashed","x":8.6,"y":-11.4},{"p":"5500","s":"dashed","x":11.4,"y":-15.8},{"p":"5500","s":"dashed","x":14.2,"y":-20.6},{"p":"5500","s":"dashed","x":16.4,"y":-25.6},{"p":"5500","s":"dashed","x":17.4,"y":-30.6},{"p":"5500","s":"dashed","x":16.8,"y":-34.6},{"p":"5500","s":"dashed","x":14.8,"y":-37.6},{"p":"5500","s":"dashed","x":11.5,"y":-39},{"p":"5500","s":"dashed","x":8.4,"y":-38.8},{"p":"5500","s":"dashed","x":5.5,"y":-37.3},{"p":"5500","s":"dashed","x":3.1,"y":-35},{"p":"5500","s":"dashed","x":1.2,"y":-31},{"p":"5500","s":"dashed","x":0,"y":-26},{"p":"5500","s":"dashed","x":-0.6,"y":-20},{"p":"5500","s":"dashed","x":-0.9,"y":-13},{"p":"5500","s":"dashed","x":-0.9,"y":-6.5},{"p":"5500","s":"dashed","x":0,"y":0},
{"p":"5500","s":"dotted","x":0,"y":0},{"p":"5500","s":"dotted","x":-1.2,"y":6},{"p":"5500","s":"dotted","x":-1.6,"y":14},{"p":"5500","s":"dotted","x":-1.3,"y":22},{"p":"5500","s":"dotted","x":-0.6,"y":28},{"p":"5500","s":"dotted","x":0.6,"y":32.5},{"p":"5500","s":"dotted","x":2.5,"y":35.8},{"p":"5500","s":"dotted","x":5.5,"y":38},{"p":"5500","s":"dotted","x":9,"y":38.9},{"p":"5500","s":"dotted","x":12.4,"y":38.2},{"p":"5500","s":"dotted","x":15.2,"y":35.9},{"p":"5500","s":"dotted","x":17,"y":32},{"p":"5500","s":"dotted","x":17.4,"y":27.4},{"p":"5500","s":"dotted","x":16.5,"y":22.9},{"p":"5500","s":"dotted","x":14.7,"y":18.9},{"p":"5500","s":"dotted","x":12.6,"y":15},{"p":"5500","s":"dotted","x":10.3,"y":11.2},{"p":"5500","s":"dotted","x":7.8,"y":7.8},{"p":"5500","s":"dotted","x":5.3,"y":4.8},{"p":"5500","s":"dotted","x":2.8,"y":2},{"p":"5500","s":"dotted","x":0,"y":0},{"p":"5500","s":"dotted","x":3,"y":-3.7},{"p":"5500","s":"dotted","x":5.8,"y":-7.6},{"p":"5500","s":"dotted","x":8.7,"y":-11.5},{"p":"5500","s":"dotted","x":11.5,"y":-16},{"p":"5500","s":"dotted","x":14.5,"y":-20.9},{"p":"5500","s":"dotted","x":16.5,"y":-25.8},{"p":"5500","s":"dotted","x":17.4,"y":-30.8},{"p":"5500","s":"dotted","x":16.7,"y":-34.7},{"p":"5500","s":"dotted","x":14.8,"y":-37.6},{"p":"5500","s":"dotted","x":11.4,"y":-39},{"p":"5500","s":"dotted","x":8.3,"y":-38.8},{"p":"5500","s":"dotted","x":5.4,"y":-37.2},{"p":"5500","s":"dotted","x":3,"y":-34.9},{"p":"5500","s":"dotted","x":1.1,"y":-31},{"p":"5500","s":"dotted","x":-0.1,"y":-26},{"p":"5500","s":"dotted","x":-0.7,"y":-20},{"p":"5500","s":"dotted","x":-0.9,"y":-13},{"p":"5500","s":"dotted","x":-0.9,"y":-6.6},{"p":"5500","s":"dotted","x":0,"y":0},

{"p":"6500","s":"solid","x":0,"y":0},{"p":"6500","s":"solid","x":-0.5,"y":3.7},{"p":"6500","s":"solid","x":-0.5,"y":10.5},{"p":"6500","s":"solid","x":-0.3,"y":17.3},{"p":"6500","s":"solid","x":0,"y":23.1},{"p":"6500","s":"solid","x":0.5,"y":28},{"p":"6500","s":"solid","x":1.5,"y":32.3},{"p":"6500","s":"solid","x":3.4,"y":34.8},{"p":"6500","s":"solid","x":6.8,"y":35.7},{"p":"6500","s":"solid","x":9.7,"y":35.7},{"p":"6500","s":"solid","x":12.1,"y":34.8},{"p":"6500","s":"solid","x":13.6,"y":32.8},{"p":"6500","s":"solid","x":14.4,"y":29.9},{"p":"6500","s":"solid","x":14.1,"y":26},{"p":"6500","s":"solid","x":13.1,"y":22.1},{"p":"6500","s":"solid","x":11.8,"y":18.3},{"p":"6500","s":"solid","x":10.5,"y":14.4},{"p":"6500","s":"solid","x":8.7,"y":10.5},{"p":"6500","s":"solid","x":6.8,"y":7.6},{"p":"6500","s":"solid","x":4.4,"y":4.7},{"p":"6500","s":"solid","x":1.9,"y":2.2},{"p":"6500","s":"solid","x":0,"y":0},{"p":"6500","s":"solid","x":1.9,"y":1.7},{"p":"6500","s":"solid","x":6.3,"y":6.6},{"p":"6500","s":"solid","x":9.7,"y":10.3},{"p":"6500","s":"solid","x":9.9,"y":8.7},{"p":"6500","s":"solid","x":6.8,"y":5.1},{"p":"6500","s":"solid","x":2.9,"y":1.7},{"p":"6500","s":"solid","x":0,"y":0},{"p":"6500","s":"solid","x":3,"y":0.6},{"p":"6500","s":"solid","x":6.8,"y":0.2},{"p":"6500","s":"solid","x":6.5,"y":-1},{"p":"6500","s":"solid","x":3,"y":-0.8},{"p":"6500","s":"solid","x":0,"y":0},{"p":"6500","s":"solid","x":1.9,"y":-2.1},{"p":"6500","s":"solid","x":6.8,"y":-6},{"p":"6500","s":"solid","x":10.7,"y":-11.4},{"p":"6500","s":"solid","x":9.7,"y":-12.3},{"p":"6500","s":"solid","x":5.3,"y":-8},{"p":"6500","s":"solid","x":1.5,"y":-3.6},{"p":"6500","s":"solid","x":0,"y":0},{"p":"6500","s":"solid","x":1.5,"y":-4},{"p":"6500","s":"solid","x":3.5,"y":-9},{"p":"6500","s":"solid","x":6.5,"y":-14.5},{"p":"6500","s":"solid","x":9.7,"y":-19.5},{"p":"6500","s":"solid","x":12.3,"y":-24.3},{"p":"6500","s":"solid","x":14.2,"y":-28.7},{"p":"6500","s":"solid","x":15,"y":-32.5},{"p":"6500","s":"solid","x":14.1,"y":-36.1},{"p":"6500","s":"solid","x":11.7,"y":-38.1},{"p":"6500","s":"solid","x":9.2,"y":-38.3},{"p":"6500","s":"solid","x":6.3,"y":-37.1},{"p":"6500","s":"solid","x":3.9,"y":-34.7},{"p":"6500","s":"solid","x":1.9,"y":-30.8},{"p":"6500","s":"solid","x":0.8,"y":-25.4},{"p":"6500","s":"solid","x":0.2,"y":-19.6},{"p":"6500","s":"solid","x":0,"y":-12.8},{"p":"6500","s":"solid","x":0,"y":-6},{"p":"6500","s":"solid","x":0,"y":0},{"p":"6500","s":"solid","x":-1.9,"y":-1.2},{"p":"6500","s":"solid","x":-6.8,"y":-3.1},{"p":"6500","s":"solid","x":-11.7,"y":-5},{"p":"6500","s":"solid","x":-15.5,"y":-6},{"p":"6500","s":"solid","x":-16.5,"y":-8.9},{"p":"6500","s":"solid","x":-15.5,"y":-12.8},{"p":"6500","s":"solid","x":-14.1,"y":-12.8},{"p":"6500","s":"solid","x":-10.7,"y":-9.9},{"p":"6500","s":"solid","x":-5.8,"y":-5.5},{"p":"6500","s":"solid","x":-1.9,"y":-2.6},{"p":"6500","s":"solid","x":0,"y":0},{"p":"6500","s":"solid","x":-1,"y":-5},{"p":"6500","s":"solid","x":-4.9,"y":-8},{"p":"6500","s":"solid","x":-6.8,"y":-11.8},{"p":"6500","s":"solid","x":-8.3,"y":-15.8},{"p":"6500","s":"solid","x":-6.3,"y":-16.2},{"p":"6500","s":"solid","x":-4.4,"y":-13.8},{"p":"6500","s":"solid","x":-1.9,"y":-11.8},{"p":"6500","s":"solid","x":-1,"y":-5},{"p":"6500","s":"solid","x":0,"y":0},{"p":"6500","s":"solid","x":-1.9,"y":1.7},{"p":"6500","s":"solid","x":-6.8,"y":5.6},{"p":"6500","s":"solid","x":-10.7,"y":8},{"p":"6500","s":"solid","x":-13.1,"y":9.5},{"p":"6500","s":"solid","x":-13.6,"y":11},{"p":"6500","s":"solid","x":-12.1,"y":11.7},{"p":"6500","s":"solid","x":-8.7,"y":9.5},{"p":"6500","s":"solid","x":-6.8,"y":8.1},{"p":"6500","s":"solid","x":-3.9,"y":4.7},{"p":"6500","s":"solid","x":-1.5,"y":2.2},{"p":"6500","s":"solid","x":0,"y":0},{"p":"6500","s":"solid","x":-1.5,"y":3.7},{"p":"6500","s":"solid","x":-3.9,"y":8.5},{"p":"6500","s":"solid","x":-5.6,"y":11},{"p":"6500","s":"solid","x":-3.4,"y":11},{"p":"6500","s":"solid","x":-1.5,"y":6.6},{"p":"6500","s":"solid","x":0,"y":0},
{"p":"6500","s":"dashed","x":0,"y":0},{"p":"6500","s":"dashed","x":-0.7,"y":5.6},{"p":"6500","s":"dashed","x":-0.5,"y":15.3},{"p":"6500","s":"dashed","x":0,"y":25},{"p":"6500","s":"dashed","x":1,"y":31.8},{"p":"6500","s":"dashed","x":2.4,"y":35.7},{"p":"6500","s":"dashed","x":4.9,"y":37.9},{"p":"6500","s":"dashed","x":8.3,"y":38.8},{"p":"6500","s":"dashed","x":10.7,"y":38.4},{"p":"6500","s":"dashed","x":12.6,"y":36.7},{"p":"6500","s":"dashed","x":13.8,"y":33.8},{"p":"6500","s":"dashed","x":14.4,"y":29.9},{"p":"6500","s":"dashed","x":14.1,"y":26},{"p":"6500","s":"dashed","x":13.1,"y":22.1},{"p":"6500","s":"dashed","x":11.8,"y":18.3},{"p":"6500","s":"dashed","x":10.4,"y":14.4},{"p":"6500","s":"dashed","x":8.6,"y":10.5},{"p":"6500","s":"dashed","x":6.7,"y":7.6},{"p":"6500","s":"dashed","x":4.3,"y":4.7},{"p":"6500","s":"dashed","x":1.8,"y":2.2},{"p":"6500","s":"dashed","x":0,"y":0},{"p":"6500","s":"dashed","x":1.4,"y":-4},{"p":"6500","s":"dashed","x":3.4,"y":-9},{"p":"6500","s":"dashed","x":6.4,"y":-14.5},{"p":"6500","s":"dashed","x":9.6,"y":-19.5},{"p":"6500","s":"dashed","x":12.2,"y":-24.3},{"p":"6500","s":"dashed","x":14.1,"y":-28.7},{"p":"6500","s":"dashed","x":14.9,"y":-32.5},{"p":"6500","s":"dashed","x":14.1,"y":-36.2},{"p":"6500","s":"dashed","x":11.8,"y":-38.4},{"p":"6500","s":"dashed","x":9.2,"y":-38.6},{"p":"6500","s":"dashed","x":6.2,"y":-37.3},{"p":"6500","s":"dashed","x":3.8,"y":-34.8},{"p":"6500","s":"dashed","x":1.8,"y":-30.8},{"p":"6500","s":"dashed","x":0.7,"y":-25.4},{"p":"6500","s":"dashed","x":0.1,"y":-19.6},{"p":"6500","s":"dashed","x":-0.1,"y":-12.8},{"p":"6500","s":"dashed","x":-0.1,"y":-6},{"p":"6500","s":"dashed","x":0,"y":0},
{"p":"6500","s":"dotted","x":0,"y":0},{"p":"6500","s":"dotted","x":-0.6,"y":5},{"p":"6500","s":"dotted","x":-0.4,"y":14},{"p":"6500","s":"dotted","x":0,"y":24},{"p":"6500","s":"dotted","x":0.8,"y":31},{"p":"6500","s":"dotted","x":2.2,"y":35},{"p":"6500","s":"dotted","x":4.6,"y":37.4},{"p":"6500","s":"dotted","x":8,"y":38.3},{"p":"6500","s":"dotted","x":10.6,"y":37.8},{"p":"6500","s":"dotted","x":12.6,"y":36},{"p":"6500","s":"dotted","x":13.8,"y":33.3},{"p":"6500","s":"dotted","x":14.4,"y":29.9},{"p":"6500","s":"dotted","x":14.1,"y":26},{"p":"6500","s":"dotted","x":13,"y":22},{"p":"6500","s":"dotted","x":11.7,"y":18.3},{"p":"6500","s":"dotted","x":10.3,"y":14.4},{"p":"6500","s":"dotted","x":8.5,"y":10.5},{"p":"6500","s":"dotted","x":6.6,"y":7.6},{"p":"6500","s":"dotted","x":4.2,"y":4.7},{"p":"6500","s":"dotted","x":1.7,"y":2.2},{"p":"6500","s":"dotted","x":0,"y":0},{"p":"6500","s":"dotted","x":1.5,"y":-4},{"p":"6500","s":"dotted","x":3.5,"y":-9},{"p":"6500","s":"dotted","x":6.5,"y":-14.5},{"p":"6500","s":"dotted","x":9.7,"y":-19.5},{"p":"6500","s":"dotted","x":12.3,"y":-24.3},{"p":"6500","s":"dotted","x":14.2,"y":-28.7},{"p":"6500","s":"dotted","x":15,"y":-32.5},{"p":"6500","s":"dotted","x":14.1,"y":-36.1},{"p":"6500","s":"dotted","x":11.7,"y":-38.2},{"p":"6500","s":"dotted","x":9.2,"y":-38.4},{"p":"6500","s":"dotted","x":6.3,"y":-37.2},{"p":"6500","s":"dotted","x":3.9,"y":-34.7},{"p":"6500","s":"dotted","x":1.9,"y":-30.8},{"p":"6500","s":"dotted","x":0.8,"y":-25.4},{"p":"6500","s":"dotted","x":0.2,"y":-19.6},{"p":"6500","s":"dotted","x":0,"y":-12.8},{"p":"6500","s":"dotted","x":0,"y":-6},{"p":"6500","s":"dotted","x":0,"y":0}
]},
"spacing":142,
"vconcat":[
{"spacing":91,"vconcat":[
 {"spacing":155,"hconcat":[
  {"title":"500 Hz","width":274,"height":274,"resolve":{"axis":{"y":"independent"}},"layer":[
   {"data":{"name":"rings"},"mark":{"type":"point","shape":"circle","filled":false,"stroke":"black","strokeWidth":1.1,"strokeDash":[1.3,3.7],"opacity":1,"clip":true},"encoding":{"x":{"field":"x","type":"quantitative","scale":{"domain":[-40,40],"nice":false,"zero":false},"axis":null},"y":{"field":"y","type":"quantitative","scale":{"domain":[-40,40],"nice":false,"zero":false},"axis":{"orient":"left","values":[-40,-20,0,20,40],"labelExpr":"''+datum.value","title":"Decibels","titlePadding":34,"tickSize":-7,"labelPadding":6}},"size":{"field":"r","type":"quantitative","scale":{"type":"pow","exponent":2,"domain":[0,40],"range":[0,75076]},"legend":null}}},
   {"data":{"name":"spokes"},"mark":{"type":"rule","color":"black","strokeWidth":1.1,"strokeDash":[1.3,3.7],"clip":true},"encoding":{"x":{"field":"x","type":"quantitative","axis":null},"y":{"field":"y","type":"quantitative","axis":{"orient":"right","values":[-20,0,20],"labels":false,"title":null,"tickSize":-7,"domain":false}},"x2":{"field":"x2"},"y2":{"field":"y2"}}},
   {"data":{"name":"curves"},"transform":[{"filter":"datum.p==='500'"}],"mark":{"type":"line","color":"black","strokeWidth":2.2,"strokeJoin":"round","clip":true},"encoding":{"x":{"field":"x","type":"quantitative","axis":null},"y":{"field":"y","type":"quantitative","axis":null},"strokeDash":{"field":"s","type":"nominal","scale":{"domain":["solid","dashed","dotted"],"range":[[1,0],[7,3.5],[1.5,2.5]]},"legend":null},"order":{"value":null}}}
  ]},
  {"title":"1500 Hz","width":268,"height":274,"view":{"stroke":null},"resolve":{"axis":{"x":"independent","y":"independent"}},"layer":[
   {"data":{"name":"rings"},"mark":{"type":"point","shape":"circle","filled":false,"stroke":"black","strokeWidth":1.1,"strokeDash":[1.3,3.7],"opacity":1,"clip":true},"encoding":{"x":{"field":"x","type":"quantitative","scale":{"domain":[-40,38.25],"nice":false,"zero":false},"axis":{"orient":"bottom","ticks":false,"labels":false,"title":null}},"y":{"field":"y","type":"quantitative","scale":{"domain":[-40,40],"nice":false,"zero":false},"axis":{"orient":"left","values":[-40,-20,0,20,40],"labelExpr":"''+datum.value","title":"Decibels","titlePadding":34,"tickSize":-7,"labelPadding":6}},"size":{"field":"r","type":"quantitative","scale":{"type":"pow","exponent":2,"domain":[0,40],"range":[0,75076]},"legend":null}}},
   {"data":{"name":"spokes"},"mark":{"type":"rule","color":"black","strokeWidth":1.1,"strokeDash":[1.3,3.7],"clip":true},"encoding":{"x":{"field":"x","type":"quantitative","axis":{"orient":"top","ticks":false,"labels":false,"title":null}},"y":{"field":"y","type":"quantitative","axis":null},"x2":{"field":"x2"},"y2":{"field":"y2"}}},
   {"data":{"name":"curves"},"transform":[{"filter":"datum.p==='1500'"}],"mark":{"type":"line","color":"black","strokeWidth":2.2,"strokeJoin":"round","clip":true},"encoding":{"x":{"field":"x","type":"quantitative","axis":null},"y":{"field":"y","type":"quantitative","axis":null},"strokeDash":{"field":"s","type":"nominal","scale":{"domain":["solid","dashed","dotted"],"range":[[1,0],[7,3.5],[1.5,2.5]]},"legend":null},"order":{"value":null}}}
  ]}
 ]},
 {"spacing":155,"hconcat":[
  {"title":"2500 Hz","width":274,"height":274,"resolve":{"axis":{"y":"independent"}},"layer":[
   {"data":{"name":"rings"},"mark":{"type":"point","shape":"circle","filled":false,"stroke":"black","strokeWidth":1.1,"strokeDash":[1.3,3.7],"opacity":1,"clip":true},"encoding":{"x":{"field":"x","type":"quantitative","scale":{"domain":[-40,40],"nice":false,"zero":false},"axis":null},"y":{"field":"y","type":"quantitative","scale":{"domain":[-40,40],"nice":false,"zero":false},"axis":{"orient":"left","values":[-40,-20,0,20,40],"labelExpr":"''+datum.value","title":"Decibels","titlePadding":34,"tickSize":-7,"labelPadding":6}},"size":{"field":"r","type":"quantitative","scale":{"type":"pow","exponent":2,"domain":[0,40],"range":[0,75076]},"legend":null}}},
   {"data":{"name":"spokes"},"mark":{"type":"rule","color":"black","strokeWidth":1.1,"strokeDash":[1.3,3.7],"clip":true},"encoding":{"x":{"field":"x","type":"quantitative","axis":null},"y":{"field":"y","type":"quantitative","axis":{"orient":"right","values":[-20,0,20],"labels":false,"title":null,"tickSize":-7,"domain":false}},"x2":{"field":"x2"},"y2":{"field":"y2"}}},
   {"data":{"name":"curves"},"transform":[{"filter":"datum.p==='2500'"}],"mark":{"type":"line","color":"black","strokeWidth":2.2,"strokeJoin":"round","clip":true},"encoding":{"x":{"field":"x","type":"quantitative","axis":null},"y":{"field":"y","type":"quantitative","axis":null},"strokeDash":{"field":"s","type":"nominal","scale":{"domain":["solid","dashed","dotted"],"range":[[1,0],[7,3.5],[1.5,2.5]]},"legend":null},"order":{"value":null}}}
  ]},
  {"title":"3500 Hz","width":268,"height":274,"view":{"stroke":null},"resolve":{"axis":{"x":"independent","y":"independent"}},"layer":[
   {"data":{"name":"rings"},"mark":{"type":"point","shape":"circle","filled":false,"stroke":"black","strokeWidth":1.1,"strokeDash":[1.3,3.7],"opacity":1,"clip":true},"encoding":{"x":{"field":"x","type":"quantitative","scale":{"domain":[-40,38.25],"nice":false,"zero":false},"axis":{"orient":"bottom","ticks":false,"labels":false,"title":null}},"y":{"field":"y","type":"quantitative","scale":{"domain":[-40,40],"nice":false,"zero":false},"axis":{"orient":"left","values":[-40,-20,0,20,40],"labelExpr":"''+datum.value","title":"Decibels","titlePadding":34,"tickSize":-7,"labelPadding":6}},"size":{"field":"r","type":"quantitative","scale":{"type":"pow","exponent":2,"domain":[0,40],"range":[0,75076]},"legend":null}}},
   {"data":{"name":"spokes"},"mark":{"type":"rule","color":"black","strokeWidth":1.1,"strokeDash":[1.3,3.7],"clip":true},"encoding":{"x":{"field":"x","type":"quantitative","axis":{"orient":"top","ticks":false,"labels":false,"title":null}},"y":{"field":"y","type":"quantitative","axis":null},"x2":{"field":"x2"},"y2":{"field":"y2"}}},
   {"data":{"name":"curves"},"transform":[{"filter":"datum.p==='3500'"}],"mark":{"type":"line","color":"black","strokeWidth":2.2,"strokeJoin":"round","clip":true},"encoding":{"x":{"field":"x","type":"quantitative","axis":null},"y":{"field":"y","type":"quantitative","axis":null},"strokeDash":{"field":"s","type":"nominal","scale":{"domain":["solid","dashed","dotted"],"range":[[1,0],[7,3.5],[1.5,2.5]]},"legend":null},"order":{"value":null}}}
  ]}
 ]}
]},
{"spacing":92,"vconcat":[
 {"spacing":155,"hconcat":[
  {"title":"4500 Hz","width":274,"height":274,"resolve":{"axis":{"y":"independent"}},"layer":[
   {"data":{"name":"rings"},"mark":{"type":"point","shape":"circle","filled":false,"stroke":"black","strokeWidth":1.1,"strokeDash":[1.3,3.7],"opacity":1,"clip":true},"encoding":{"x":{"field":"x","type":"quantitative","scale":{"domain":[-40,40],"nice":false,"zero":false},"axis":null},"y":{"field":"y","type":"quantitative","scale":{"domain":[-40,40],"nice":false,"zero":false},"axis":{"orient":"left","values":[-40,-20,0,20,40],"labelExpr":"''+datum.value","title":"Decibels","titlePadding":34,"tickSize":-7,"labelPadding":6}},"size":{"field":"r","type":"quantitative","scale":{"type":"pow","exponent":2,"domain":[0,40],"range":[0,75076]},"legend":null}}},
   {"data":{"name":"spokes"},"mark":{"type":"rule","color":"black","strokeWidth":1.1,"strokeDash":[1.3,3.7],"clip":true},"encoding":{"x":{"field":"x","type":"quantitative","axis":null},"y":{"field":"y","type":"quantitative","axis":{"orient":"right","values":[-20,0,20],"labels":false,"title":null,"tickSize":-7,"domain":false}},"x2":{"field":"x2"},"y2":{"field":"y2"}}},
   {"data":{"name":"curves"},"transform":[{"filter":"datum.p==='4500'"}],"mark":{"type":"line","color":"black","strokeWidth":2.2,"strokeJoin":"round","clip":true},"encoding":{"x":{"field":"x","type":"quantitative","axis":null},"y":{"field":"y","type":"quantitative","axis":null},"strokeDash":{"field":"s","type":"nominal","scale":{"domain":["solid","dashed","dotted"],"range":[[1,0],[7,3.5],[1.5,2.5]]},"legend":null},"order":{"value":null}}}
  ]},
  {"title":"5000 Hz","width":268,"height":274,"view":{"stroke":null},"resolve":{"axis":{"x":"independent","y":"independent"}},"layer":[
   {"data":{"name":"rings"},"mark":{"type":"point","shape":"circle","filled":false,"stroke":"black","strokeWidth":1.1,"strokeDash":[1.3,3.7],"opacity":1,"clip":true},"encoding":{"x":{"field":"x","type":"quantitative","scale":{"domain":[-40,38.25],"nice":false,"zero":false},"axis":{"orient":"bottom","ticks":false,"labels":false,"title":null}},"y":{"field":"y","type":"quantitative","scale":{"domain":[-40,40],"nice":false,"zero":false},"axis":{"orient":"left","values":[-40,-20,0,20,40],"labelExpr":"''+datum.value","title":"Decibels","titlePadding":34,"tickSize":-7,"labelPadding":6}},"size":{"field":"r","type":"quantitative","scale":{"type":"pow","exponent":2,"domain":[0,40],"range":[0,75076]},"legend":null}}},
   {"data":{"name":"spokes"},"mark":{"type":"rule","color":"black","strokeWidth":1.1,"strokeDash":[1.3,3.7],"clip":true},"encoding":{"x":{"field":"x","type":"quantitative","axis":{"orient":"top","ticks":false,"labels":false,"title":null}},"y":{"field":"y","type":"quantitative","axis":null},"x2":{"field":"x2"},"y2":{"field":"y2"}}},
   {"data":{"name":"curves"},"transform":[{"filter":"datum.p==='5000'"}],"mark":{"type":"line","color":"black","strokeWidth":2.2,"strokeJoin":"round","clip":true},"encoding":{"x":{"field":"x","type":"quantitative","axis":null},"y":{"field":"y","type":"quantitative","axis":null},"strokeDash":{"field":"s","type":"nominal","scale":{"domain":["solid","dashed","dotted"],"range":[[1,0],[7,3.5],[1.5,2.5]]},"legend":null},"order":{"value":null}}}
  ]}
 ]},
 {"spacing":155,"hconcat":[
  {"title":"5500 Hz","width":274,"height":274,"resolve":{"axis":{"y":"independent"}},"layer":[
   {"data":{"name":"rings"},"mark":{"type":"point","shape":"circle","filled":false,"stroke":"black","strokeWidth":1.1,"strokeDash":[1.3,3.7],"opacity":1,"clip":true},"encoding":{"x":{"field":"x","type":"quantitative","scale":{"domain":[-40,40],"nice":false,"zero":false},"axis":null},"y":{"field":"y","type":"quantitative","scale":{"domain":[-40,40],"nice":false,"zero":false},"axis":{"orient":"left","values":[-40,-20,0,20,40],"labelExpr":"''+datum.value","title":"Decibels","titlePadding":34,"tickSize":-7,"labelPadding":6}},"size":{"field":"r","type":"quantitative","scale":{"type":"pow","exponent":2,"domain":[0,40],"range":[0,75076]},"legend":null}}},
   {"data":{"name":"spokes"},"mark":{"type":"rule","color":"black","strokeWidth":1.1,"strokeDash":[1.3,3.7],"clip":true},"encoding":{"x":{"field":"x","type":"quantitative","axis":null},"y":{"field":"y","type":"quantitative","axis":{"orient":"right","values":[-20,0,20],"labels":false,"title":null,"tickSize":-7,"domain":false}},"x2":{"field":"x2"},"y2":{"field":"y2"}}},
   {"data":{"name":"curves"},"transform":[{"filter":"datum.p==='5500'"}],"mark":{"type":"line","color":"black","strokeWidth":2.2,"strokeJoin":"round","clip":true},"encoding":{"x":{"field":"x","type":"quantitative","axis":null},"y":{"field":"y","type":"quantitative","axis":null},"strokeDash":{"field":"s","type":"nominal","scale":{"domain":["solid","dashed","dotted"],"range":[[1,0],[7,3.5],[1.5,2.5]]},"legend":null},"order":{"value":null}}}
  ]},
  {"title":"6500 Hz","width":268,"height":274,"view":{"stroke":null},"resolve":{"axis":{"x":"independent","y":"independent"}},"layer":[
   {"data":{"name":"rings"},"mark":{"type":"point","shape":"circle","filled":false,"stroke":"black","strokeWidth":1.1,"strokeDash":[1.3,3.7],"opacity":1,"clip":true},"encoding":{"x":{"field":"x","type":"quantitative","scale":{"domain":[-40,38.25],"nice":false,"zero":false},"axis":{"orient":"bottom","ticks":false,"labels":false,"title":null}},"y":{"field":"y","type":"quantitative","scale":{"domain":[-40,40],"nice":false,"zero":false},"axis":{"orient":"left","values":[-40,-20,0,20,40],"labelExpr":"''+datum.value","title":"Decibels","titlePadding":34,"tickSize":-7,"labelPadding":6}},"size":{"field":"r","type":"quantitative","scale":{"type":"pow","exponent":2,"domain":[0,40],"range":[0,75076]},"legend":null}}},
   {"data":{"name":"spokes"},"mark":{"type":"rule","color":"black","strokeWidth":1.1,"strokeDash":[1.3,3.7],"clip":true},"encoding":{"x":{"field":"x","type":"quantitative","axis":{"orient":"top","ticks":false,"labels":false,"title":null}},"y":{"field":"y","type":"quantitative","axis":null},"x2":{"field":"x2"},"y2":{"field":"y2"}}},
   {"data":{"name":"curves"},"transform":[{"filter":"datum.p==='6500'"}],"mark":{"type":"line","color":"black","strokeWidth":2.2,"strokeJoin":"round","clip":true},"encoding":{"x":{"field":"x","type":"quantitative","axis":null},"y":{"field":"y","type":"quantitative","axis":null},"strokeDash":{"field":"s","type":"nominal","scale":{"domain":["solid","dashed","dotted"],"range":[[1,0],[7,3.5],[1.5,2.5]]},"legend":null},"order":{"value":null}}}
  ]}
 ]}
]}
]
}
